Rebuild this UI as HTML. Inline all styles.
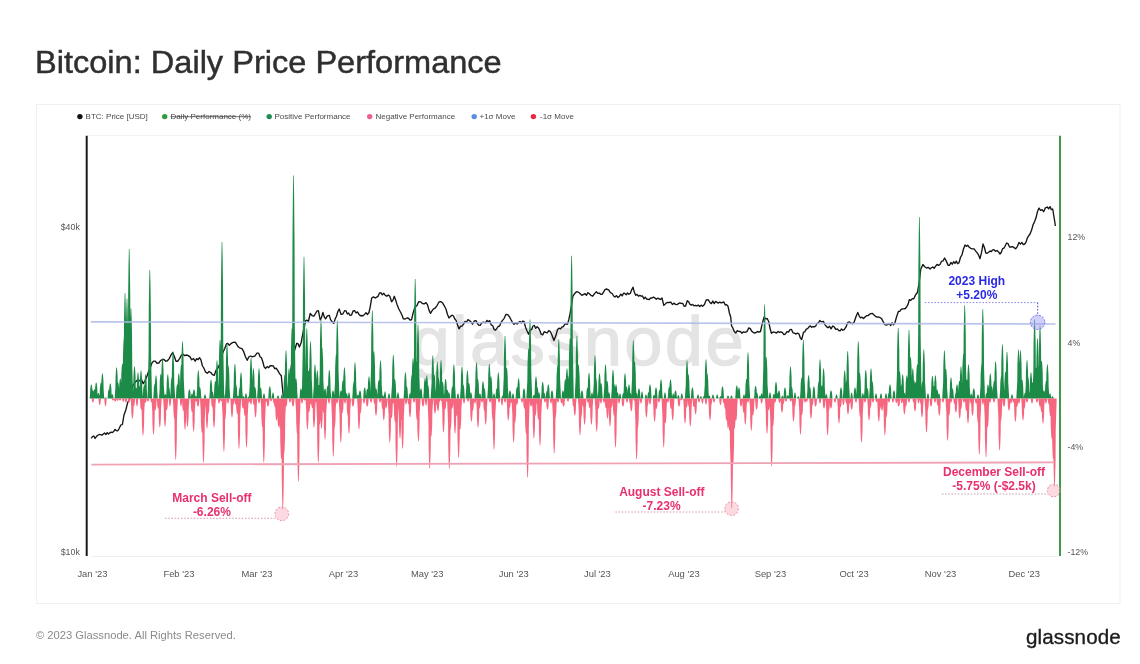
<!DOCTYPE html>
<html><head><meta charset="utf-8"><title>Bitcoin: Daily Price Performance</title>
<style>
html,body{margin:0;padding:0;background:#fff;}
body{width:1140px;height:664px;position:relative;overflow:hidden;font-family:"Liberation Sans",Arial,sans-serif;}
h1{position:absolute;left:35px;top:43.4px;margin:0;font-size:31px;font-weight:normal;color:#2f2f2f;white-space:nowrap;line-height:40px;transform:scaleX(1.05);transform-origin:0 0;-webkit-text-stroke:0.45px #2f2f2f;}
.foot{position:absolute;left:36px;top:627px;font-size:11.2px;color:#8a8a8a;white-space:nowrap;line-height:16px;}
.logo{position:absolute;left:1026px;top:624.6px;font-size:20.6px;color:#1c1c1c;white-space:nowrap;line-height:24px;letter-spacing:0.1px;-webkit-text-stroke:0.35px #1c1c1c;}
svg{position:absolute;left:0;top:0;}
</style></head>
<body>
<h1>Bitcoin: Daily Price Performance</h1>
<svg width="1140" height="664" viewBox="0 0 1140 664" font-family="Liberation Sans, Arial, sans-serif">
<rect x="36.5" y="104.5" width="1083.5" height="499" fill="#fff" stroke="#f0f0f0" stroke-width="1"/>
<g font-size="8" fill="#4a4a4a">
<circle cx="79.9" cy="116.6" r="2.7" fill="#111"/><text x="85.6" y="119.1">BTC: Price [USD]</text>
<circle cx="164.7" cy="116.6" r="2.7" fill="#2e9b3c"/><text x="170.5" y="119.1" text-decoration="line-through">Daily Performance (%)</text>
<circle cx="269.2" cy="116.6" r="2.7" fill="#1e8c55"/><text x="274.5" y="119.1">Positive Performance</text>
<circle cx="369.7" cy="116.6" r="2.7" fill="#f0608c"/><text x="375.5" y="119.1">Negative Performance</text>
<circle cx="474.2" cy="116.6" r="2.7" fill="#5b8ee0"/><text x="479.5" y="119.1">+1σ Move</text>
<circle cx="533.4" cy="116.6" r="2.7" fill="#e8283c"/><text x="540" y="119.1">-1σ Move</text>
</g>
<line x1="88" y1="135.5" x2="1059" y2="135.5" stroke="#f2f2f2" stroke-width="1"/>
<line x1="92" y1="556.5" x2="1059" y2="556.5" stroke="#efefef" stroke-width="1"/>
<text x="579" y="365" text-anchor="middle" font-size="68" fill="#e4e4e4" stroke="#e4e4e4" stroke-width="1.4" letter-spacing="2.7">glassnode</text>
<polyline points="91.20,438.30 92.50,436.68 93.80,436.02 95.10,438.43 96.40,436.60 97.78,435.22 99.16,434.48 100.54,434.60 101.92,435.12 103.30,434.00 104.60,433.01 105.90,434.56 107.20,432.60 108.50,434.00 109.80,432.86 111.10,432.23 112.40,432.50 113.70,431.40 115.03,429.40 116.35,430.66 117.67,430.80 119.00,428.80 120.70,425.20 122.40,424.50 124.00,415.00 125.80,410.01 127.60,402.80 130.20,397.60 131.50,390.12 132.80,385.50 135.40,382.00 138.00,379.40 139.75,380.86 141.50,379.40 143.20,383.70 145.10,380.51 147.00,376.00 148.63,371.17 150.27,367.71 151.90,363.00 153.60,361.08 155.30,361.20 157.05,363.21 158.80,363.00 160.55,360.58 162.30,359.50 164.00,359.47 165.70,361.20 167.45,360.78 169.20,358.60 170.95,355.18 172.70,352.50 174.35,356.52 176.00,361.20 177.80,361.21 179.60,358.60 181.30,355.20 183.00,354.30 184.75,355.64 186.50,355.00 188.25,355.59 190.00,356.90 191.73,359.78 193.47,358.56 195.20,361.20 196.63,358.60 198.07,359.59 199.50,357.70 200.93,359.90 202.37,365.76 203.80,368.00 205.55,371.98 207.30,373.30 209.05,371.47 210.80,372.50 212.50,374.66 214.20,375.40 216.10,370.30 218.00,368.00 219.63,364.24 221.27,356.99 222.90,352.50 224.65,348.71 226.40,343.90 227.83,343.42 229.27,345.40 230.70,343.90 232.45,342.64 234.20,342.10 235.50,342.46 236.80,344.70 238.50,347.03 240.20,348.20 241.95,348.66 243.70,351.70 245.45,356.81 247.20,360.30 248.90,356.75 250.60,356.00 252.07,356.89 253.53,356.46 255.00,356.00 256.85,353.16 258.70,353.20 260.05,356.75 261.40,357.80 262.75,361.48 264.10,366.80 265.63,368.41 267.17,366.56 268.70,367.70 270.20,365.78 271.70,365.66 273.20,365.90 274.70,368.58 276.20,368.25 277.70,370.40 279.50,373.58 281.30,375.80 283.10,394.80 285.00,397.50 287.50,392.00 290.00,377.00 292.50,357.00 294.70,350.00 296.70,343.30 298.05,343.66 299.40,347.00 301.20,342.40 303.50,330.00 305.70,320.70 307.05,320.10 308.40,321.60 310.20,313.50 312.05,315.56 313.90,316.20 315.40,313.74 316.90,311.19 318.40,310.70 320.20,319.80 321.55,317.39 322.90,312.50 324.25,316.83 325.60,318.90 327.40,315.89 329.20,315.30 330.60,319.60 332.00,321.60 333.80,323.40 335.15,318.92 336.50,316.20 337.85,311.47 339.20,309.00 341.00,314.40 342.80,313.98 344.60,310.70 345.95,310.85 347.30,313.96 348.65,313.04 350.00,315.30 351.53,315.05 353.07,310.98 354.60,310.70 356.07,313.01 357.53,311.87 359.00,314.40 360.38,315.71 361.75,315.53 363.12,315.85 364.50,314.40 366.00,312.83 367.50,314.44 369.00,312.50 370.35,306.12 371.70,298.00 373.50,296.84 375.30,298.00 376.68,297.18 378.05,296.35 379.43,293.22 380.80,292.70 382.30,294.83 383.80,293.34 385.30,295.40 386.80,296.19 388.30,294.92 389.80,296.30 391.60,301.70 392.95,300.12 394.30,296.30 395.65,300.00 397.00,304.40 398.85,309.02 400.70,312.50 402.05,315.24 403.40,318.90 405.20,318.97 407.00,318.00 408.50,318.26 410.00,319.96 411.50,319.80 413.25,312.39 415.00,307.00 416.85,305.73 418.70,301.70 420.55,301.81 422.40,303.50 424.20,303.84 426.00,302.60 427.50,304.90 429.00,310.14 430.50,313.40 432.05,310.74 433.60,308.90 435.40,307.81 437.20,305.30 439.00,302.00 440.80,301.60 442.65,303.10 444.50,306.20 446.00,309.06 447.50,314.54 449.00,318.00 450.50,316.36 452.00,315.21 453.50,316.00 454.85,319.02 456.20,320.60 457.60,325.00 459.00,328.80 460.50,326.29 462.00,326.20 463.50,324.20 465.00,321.33 466.50,322.02 468.00,319.70 469.50,320.55 471.00,321.94 472.50,324.20 474.25,321.00 476.00,320.60 477.40,323.51 478.80,325.20 480.15,325.40 481.50,323.12 482.85,322.21 484.20,322.40 485.57,322.82 486.95,320.45 488.32,321.70 489.70,320.60 491.20,324.93 492.70,325.73 494.20,329.70 495.55,330.20 496.90,328.44 498.25,326.44 499.60,326.00 500.95,322.65 502.30,320.60 504.15,318.32 506.00,314.30 507.80,314.63 509.60,317.00 511.07,319.84 512.53,322.46 514.00,324.20 515.53,322.90 517.07,323.94 518.60,322.40 519.95,321.44 521.30,322.96 522.65,321.12 524.00,321.50 525.53,327.13 527.07,330.92 528.60,334.20 530.07,330.23 531.53,329.72 533.00,326.00 534.38,325.42 535.75,328.34 537.12,326.65 538.50,327.90 539.85,330.51 541.20,334.20 542.70,334.90 544.20,331.70 545.70,332.40 547.23,332.92 548.77,330.56 550.30,331.50 552.10,335.53 553.90,340.50 555.70,336.06 557.50,329.70 559.00,328.10 560.50,328.90 562.00,327.00 563.35,326.68 564.70,324.32 566.05,323.80 567.40,324.20 568.75,319.97 570.10,313.40 571.50,305.25 572.90,296.20 574.70,293.59 576.50,291.70 578.25,292.04 580.00,293.50 581.85,295.39 583.70,294.40 585.05,293.71 586.40,295.35 587.75,292.69 589.10,293.50 590.90,295.34 592.70,296.20 594.55,293.60 596.40,291.70 597.90,293.36 599.40,293.13 600.90,294.40 602.25,294.24 603.60,292.16 604.95,289.67 606.30,289.00 608.60,289.90 610.40,292.59 612.20,293.50 613.60,296.00 615.00,297.00 616.50,295.60 618.00,297.52 619.50,296.20 620.85,294.13 622.20,295.90 623.55,293.21 624.90,293.50 626.25,294.70 627.60,293.04 628.95,294.25 630.30,293.50 631.65,289.83 633.00,287.20 634.35,292.34 635.70,295.30 637.08,294.42 638.45,296.20 639.83,295.39 641.20,296.20 642.55,296.02 643.90,298.86 645.25,297.13 646.60,299.00 647.95,299.23 649.30,299.62 650.65,297.81 652.00,298.00 653.44,297.10 654.88,297.93 656.32,299.33 657.76,298.10 659.20,299.00 660.60,299.22 662.00,298.00 663.80,305.30 665.15,304.14 666.50,302.82 667.85,302.38 669.20,302.50 670.78,302.05 672.35,304.44 673.92,303.15 675.50,304.40 676.96,304.56 678.42,303.69 679.88,302.98 681.34,303.38 682.80,303.50 684.15,306.22 685.50,306.20 687.30,300.70 688.65,301.74 690.00,304.40 691.35,305.04 692.70,304.36 694.05,305.84 695.40,305.30 696.84,305.96 698.28,305.03 699.72,306.48 701.16,305.14 702.60,306.20 704.45,304.41 706.30,299.80 708.10,299.72 709.90,302.50 711.34,303.61 712.78,301.07 714.22,303.60 715.66,301.39 717.10,302.50 718.45,303.00 719.80,302.17 721.15,302.89 722.50,302.50 723.88,301.96 725.25,305.02 726.62,304.64 728.00,306.20 729.35,312.76 730.70,317.00 731.60,326.00 732.95,328.16 734.30,331.50 735.80,332.93 737.30,330.68 738.80,331.50 740.35,331.42 741.90,333.19 743.45,331.82 745.00,332.40 746.90,331.64 748.80,327.90 750.30,328.68 751.80,331.29 753.30,332.40 754.74,333.11 756.18,332.40 757.62,331.50 759.06,332.05 760.50,331.50 762.30,323.46 764.10,317.00 765.63,318.86 767.17,318.53 768.70,321.50 770.05,328.31 771.40,333.30 773.20,331.91 775.00,332.40 776.50,333.08 778.00,331.45 779.50,332.40 780.98,331.78 782.45,332.64 783.92,334.55 785.40,334.00 786.93,331.55 788.47,332.12 790.00,329.60 791.50,329.40 793.00,332.84 794.50,333.20 796.00,334.04 797.50,333.06 799.00,334.00 800.35,337.98 801.70,339.50 803.50,332.30 804.88,331.63 806.25,329.20 807.62,328.65 809.00,326.90 810.35,325.91 811.70,327.27 813.05,326.54 814.40,326.90 815.75,325.94 817.10,323.28 818.45,322.78 819.80,320.50 821.60,321.92 823.40,321.40 824.93,324.62 826.47,326.66 828.00,327.80 829.55,326.29 831.10,328.80 832.65,325.98 834.20,326.90 835.73,329.37 837.27,328.84 838.80,330.50 840.15,330.78 841.50,328.94 842.85,330.20 844.20,329.60 846.00,326.92 847.80,322.30 849.38,321.94 850.95,323.03 852.52,323.74 854.10,322.30 855.95,316.77 857.80,312.40 859.15,315.83 860.50,317.80 862.00,317.22 863.50,318.56 865.00,317.00 866.50,315.65 868.00,315.64 869.50,314.20 871.00,313.63 872.50,313.48 874.00,315.00 875.53,316.35 877.07,317.19 878.60,317.00 880.07,317.64 881.53,318.51 883.00,321.40 884.85,324.66 886.70,325.00 888.05,324.28 889.40,323.60 890.75,325.57 892.10,322.81 893.45,324.86 894.80,323.20 896.60,316.79 898.40,311.50 899.77,311.37 901.15,309.42 902.52,308.89 903.90,308.80 905.25,308.50 906.60,307.00 907.95,304.66 909.30,299.70 910.80,300.44 912.30,298.63 913.80,298.80 915.60,294.76 917.40,292.50 919.20,282.50 920.70,269.60 922.90,264.50 924.70,266.75 926.50,268.00 928.25,267.34 930.00,269.00 931.38,267.79 932.75,266.96 934.12,268.31 935.50,266.30 937.00,264.44 938.50,265.41 940.00,264.50 941.53,261.33 943.07,260.93 944.60,258.00 946.40,261.37 948.20,265.40 949.55,265.26 950.90,262.46 952.25,264.18 953.60,261.80 954.95,263.43 956.30,261.15 957.65,263.73 959.00,262.70 960.50,257.26 962.00,254.78 963.50,249.03 965.00,245.00 966.33,246.39 967.67,245.12 969.00,247.00 970.67,248.27 972.33,248.83 974.00,248.80 975.50,250.89 977.00,252.65 978.50,254.85 980.00,258.70 981.50,252.66 983.00,244.00 984.40,247.47 985.80,253.00 987.20,253.25 988.60,252.25 990.00,251.00 991.33,251.52 992.67,249.83 994.00,249.70 995.50,251.29 997.00,250.47 998.50,251.89 1000.00,254.00 1001.32,252.23 1002.64,248.64 1003.96,248.15 1005.28,245.76 1006.60,243.00 1008.07,243.71 1009.53,247.04 1011.00,247.00 1012.53,246.54 1014.07,247.63 1015.60,248.80 1017.30,246.58 1019.00,242.40 1020.42,244.15 1021.85,242.40 1023.28,244.53 1024.70,244.00 1026.03,242.16 1027.35,237.97 1028.67,235.98 1030.00,234.00 1031.53,230.31 1033.07,224.71 1034.60,221.60 1036.07,217.60 1037.53,211.46 1039.00,208.00 1040.53,210.41 1042.07,209.59 1043.60,211.70 1045.45,207.90 1047.30,207.00 1048.65,208.82 1050.00,206.59 1051.35,209.64 1052.70,209.00 1054.50,220.00 1055.40,226.00" fill="none" stroke="#151515" stroke-width="1.35" stroke-linejoin="round"/>
<path d="M89.67,398.60 L90.05,393.70 L90.25,388.80 L90.65,386.00 L91.00,384.60 L91.60,384.60 L91.95,386.00 L92.35,388.80 L92.55,393.70 L92.93,398.60ZM94.53,398.60 L94.95,393.00 L95.15,387.40 L95.55,384.20 L95.90,382.60 L96.50,382.60 L96.85,384.20 L97.25,387.40 L97.45,393.00 L97.87,398.60ZM100.55,398.60 L101.15,389.85 L101.35,381.10 L101.75,376.10 L102.10,373.60 L102.70,373.60 L103.05,376.10 L103.45,381.10 L103.65,389.85 L104.25,398.60ZM104.20,398.60 L104.60,398.00 L105.15,397.60 L105.85,397.60 L106.40,398.00 L106.80,398.60ZM108.65,398.60 L109.05,393.35 L109.25,388.10 L109.65,385.10 L110.00,383.60 L110.60,383.60 L110.95,385.10 L111.35,388.10 L111.55,393.35 L111.95,398.60ZM114.63,398.60 L115.35,387.75 L115.55,376.90 L115.95,370.70 L116.30,367.60 L116.90,367.60 L117.25,370.70 L117.65,376.90 L117.85,387.75 L118.57,398.60ZM118.55,398.60 L119.05,391.60 L119.25,384.60 L119.65,380.60 L120.00,378.60 L120.60,378.60 L120.95,380.60 L121.35,384.60 L121.55,391.60 L122.05,398.60ZM121.80,398.60 L122.75,377.60 L122.95,356.60 L123.35,344.60 L123.70,338.60 L124.30,338.60 L124.65,344.60 L125.05,356.60 L125.25,377.60 L126.20,398.60ZM122.80,398.60 L123.75,361.64 L123.95,324.68 L124.35,303.56 L124.70,293.00 L125.30,293.00 L125.65,303.56 L126.05,324.68 L126.25,361.64 L127.20,398.60ZM124.80,398.60 L125.75,363.60 L125.95,328.60 L126.35,308.60 L126.70,298.60 L127.30,298.60 L127.65,308.60 L128.05,328.60 L128.25,363.60 L129.20,398.60ZM127.00,398.60 L127.95,346.24 L128.15,293.88 L128.55,263.96 L128.90,249.00 L129.50,249.00 L129.85,263.96 L130.25,293.88 L130.45,346.24 L131.40,398.60ZM128.80,398.60 L129.75,367.10 L129.95,335.60 L130.35,317.60 L130.70,308.60 L131.30,308.60 L131.65,317.60 L132.05,335.60 L132.25,367.10 L133.20,398.60ZM132.51,398.60 L133.25,387.40 L133.45,376.20 L133.85,369.80 L134.20,366.60 L134.80,366.60 L135.15,369.80 L135.55,376.20 L135.75,387.40 L136.49,398.60ZM136.13,398.60 L136.75,389.50 L136.95,380.40 L137.35,375.20 L137.70,372.60 L138.30,372.60 L138.65,375.20 L139.05,380.40 L139.25,389.50 L139.87,398.60ZM139.09,398.60 L139.75,388.80 L139.95,379.00 L140.35,373.40 L140.70,370.60 L141.30,370.60 L141.65,373.40 L142.05,379.00 L142.25,388.80 L142.91,398.60ZM143.77,398.60 L144.35,390.20 L144.55,381.80 L144.95,377.00 L145.30,374.60 L145.90,374.60 L146.25,377.00 L146.65,381.80 L146.85,390.20 L147.43,398.60ZM147.60,398.60 L148.55,353.59 L148.75,308.58 L149.15,282.86 L149.50,270.00 L150.10,270.00 L150.45,282.86 L150.85,308.58 L151.05,353.59 L152.00,398.60ZM154.19,398.60 L154.75,390.55 L154.95,382.50 L155.35,377.90 L155.70,375.60 L156.30,375.60 L156.65,377.90 L157.05,382.50 L157.25,390.55 L157.81,398.60ZM160.35,398.60 L161.25,384.60 L161.45,370.60 L161.85,362.60 L162.20,358.60 L162.80,358.60 L163.15,362.60 L163.55,370.60 L163.75,384.60 L164.65,398.60ZM165.97,398.60 L166.55,390.20 L166.75,381.80 L167.15,377.00 L167.50,374.60 L168.10,374.60 L168.45,377.00 L168.85,381.80 L169.05,390.20 L169.63,398.60ZM170.80,398.60 L171.75,382.15 L171.95,365.70 L172.35,356.30 L172.70,351.60 L173.30,351.60 L173.65,356.30 L174.05,365.70 L174.25,382.15 L175.20,398.60ZM176.95,398.60 L177.55,389.85 L177.75,381.10 L178.15,376.10 L178.50,373.60 L179.10,373.60 L179.45,376.10 L179.85,381.10 L180.05,389.85 L180.65,398.60ZM180.30,398.60 L181.25,378.65 L181.45,358.70 L181.85,347.30 L182.20,341.60 L182.80,341.60 L183.15,347.30 L183.55,358.70 L183.75,378.65 L184.70,398.60ZM187.87,398.60 L188.15,395.45 L188.35,392.30 L188.75,390.50 L189.10,389.60 L189.70,389.60 L190.05,390.50 L190.45,392.30 L190.65,395.45 L190.93,398.60ZM190.70,398.60 L191.10,395.60 L191.65,393.60 L192.35,393.60 L192.90,395.60 L193.30,398.60ZM192.47,398.60 L192.75,395.45 L192.95,392.30 L193.35,390.50 L193.70,389.60 L194.30,389.60 L194.65,390.50 L195.05,392.30 L195.25,395.45 L195.53,398.60ZM196.39,398.60 L197.05,388.80 L197.25,379.00 L197.65,373.40 L198.00,370.60 L198.60,370.60 L198.95,373.40 L199.35,379.00 L199.55,388.80 L200.21,398.60ZM203.70,398.60 L204.10,396.20 L204.65,394.60 L205.35,394.60 L205.90,396.20 L206.30,398.60ZM209.27,398.60 L209.75,392.02 L209.95,385.44 L210.35,381.68 L210.70,379.80 L211.30,379.80 L211.65,381.68 L212.05,385.44 L212.25,392.02 L212.73,398.60ZM214.89,398.60 L215.75,385.30 L215.95,372.00 L216.35,364.40 L216.70,360.60 L217.30,360.60 L217.65,364.40 L218.05,372.00 L218.25,385.30 L219.11,398.60ZM217.80,398.60 L218.75,378.06 L218.95,357.51 L219.35,345.77 L219.70,339.90 L220.30,339.90 L220.65,345.77 L221.05,357.51 L221.25,378.06 L222.20,398.60ZM219.80,398.60 L220.75,343.79 L220.95,288.98 L221.35,257.66 L221.70,242.00 L222.30,242.00 L222.65,257.66 L223.05,288.98 L223.25,343.79 L224.20,398.60ZM224.80,398.60 L225.75,379.35 L225.95,360.10 L226.35,349.10 L226.70,343.60 L227.30,343.60 L227.65,349.10 L228.05,360.10 L228.25,379.35 L229.20,398.60ZM232.86,398.60 L233.65,386.49 L233.85,374.38 L234.25,367.46 L234.60,364.00 L235.20,364.00 L235.55,367.46 L235.95,374.38 L236.15,386.49 L236.94,398.60ZM239.13,398.60 L239.75,389.50 L239.95,380.40 L240.35,375.20 L240.70,372.60 L241.30,372.60 L241.65,375.20 L242.05,380.40 L242.25,389.50 L242.87,398.60ZM244.70,398.60 L245.10,395.60 L245.65,393.60 L246.35,393.60 L246.90,395.60 L247.30,398.60ZM248.84,398.60 L249.75,384.39 L249.95,370.18 L250.35,362.06 L250.70,358.00 L251.30,358.00 L251.65,362.06 L252.05,370.18 L252.25,384.39 L253.16,398.60ZM251.45,398.60 L252.15,388.10 L252.35,377.60 L252.75,371.60 L253.10,368.60 L253.70,368.60 L254.05,371.60 L254.45,377.60 L254.65,388.10 L255.35,398.60ZM257.05,398.60 L257.75,388.10 L257.95,377.60 L258.35,371.60 L258.70,368.60 L259.30,368.60 L259.65,371.60 L260.05,377.60 L260.25,388.10 L260.95,398.60ZM262.70,398.60 L263.10,395.60 L263.65,393.60 L264.35,393.60 L264.90,395.60 L265.30,398.60ZM268.21,398.60 L268.55,394.40 L268.75,390.20 L269.15,387.80 L269.50,386.60 L270.10,386.60 L270.45,387.80 L270.85,390.20 L271.05,394.40 L271.39,398.60ZM271.70,398.60 L272.10,395.00 L272.65,392.60 L273.35,392.60 L273.90,395.00 L274.30,398.60ZM276.70,398.60 L277.10,396.80 L277.65,395.60 L278.35,395.60 L278.90,396.80 L279.30,398.60ZM280.70,398.60 L281.10,396.20 L281.65,394.60 L282.35,394.60 L282.90,396.20 L283.30,398.60ZM283.80,398.60 L284.75,381.80 L284.95,365.00 L285.35,355.40 L285.70,350.60 L286.30,350.60 L286.65,355.40 L287.05,365.00 L287.25,381.80 L288.20,398.60ZM287.05,398.60 L287.75,388.10 L287.95,377.60 L288.35,371.60 L288.70,368.60 L289.30,368.60 L289.65,371.60 L290.05,377.60 L290.25,388.10 L290.95,398.60ZM289.80,398.60 L290.75,374.10 L290.95,349.60 L291.35,335.60 L291.70,328.60 L292.30,328.60 L292.65,335.60 L293.05,349.60 L293.25,374.10 L294.20,398.60ZM291.30,398.60 L292.25,320.55 L292.45,242.50 L292.85,197.90 L293.20,175.60 L293.80,175.60 L294.15,197.90 L294.55,242.50 L294.75,320.55 L295.70,398.60ZM294.25,398.60 L294.75,391.60 L294.95,384.60 L295.35,380.60 L295.70,378.60 L296.30,378.60 L296.65,380.60 L297.05,384.60 L297.25,391.60 L297.75,398.60ZM299.45,398.60 L299.75,395.10 L299.95,391.60 L300.35,389.60 L300.70,388.60 L301.30,388.60 L301.65,389.60 L302.05,391.60 L302.25,395.10 L302.55,398.60ZM301.80,398.60 L302.75,348.97 L302.95,299.34 L303.35,270.98 L303.70,256.80 L304.30,256.80 L304.65,270.98 L305.05,299.34 L305.25,348.97 L306.20,398.60ZM304.60,398.60 L305.55,374.10 L305.75,349.60 L306.15,335.60 L306.50,328.60 L307.10,328.60 L307.45,335.60 L307.85,349.60 L308.05,374.10 L309.00,398.60ZM308.30,398.60 L309.25,378.65 L309.45,358.70 L309.85,347.30 L310.20,341.60 L310.80,341.60 L311.15,347.30 L311.55,358.70 L311.75,378.65 L312.70,398.60ZM312.97,398.60 L313.75,386.70 L313.95,374.80 L314.35,368.00 L314.70,364.60 L315.30,364.60 L315.65,368.00 L316.05,374.80 L316.25,386.70 L317.03,398.60ZM315.39,398.60 L316.05,388.80 L316.25,379.00 L316.65,373.40 L317.00,370.60 L317.60,370.60 L317.95,373.40 L318.35,379.00 L318.55,388.80 L319.21,398.60ZM318.80,398.60 L319.75,370.95 L319.95,343.30 L320.35,327.50 L320.70,319.60 L321.30,319.60 L321.65,327.50 L322.05,343.30 L322.25,370.95 L323.20,398.60ZM323.45,398.60 L323.75,395.10 L323.95,391.60 L324.35,389.60 L324.70,388.60 L325.30,388.60 L325.65,389.60 L326.05,391.60 L326.25,395.10 L326.55,398.60ZM327.38,398.60 L328.05,388.59 L328.25,378.58 L328.65,372.86 L329.00,370.00 L329.60,370.00 L329.95,372.86 L330.35,378.58 L330.55,388.59 L331.22,398.60ZM331.49,398.60 L331.75,395.80 L331.95,393.00 L332.35,391.40 L332.70,390.60 L333.30,390.60 L333.65,391.40 L334.05,393.00 L334.25,395.80 L334.51,398.60ZM335.10,398.60 L336.05,371.30 L336.25,344.00 L336.65,328.40 L337.00,320.60 L337.60,320.60 L337.95,328.40 L338.35,344.00 L338.55,371.30 L339.50,398.60ZM339.49,398.60 L339.75,395.80 L339.95,393.00 L340.35,391.40 L340.70,390.60 L341.30,390.60 L341.65,391.40 L342.05,393.00 L342.25,395.80 L342.51,398.60ZM342.43,398.60 L343.15,387.75 L343.35,376.90 L343.75,370.70 L344.10,367.60 L344.70,367.60 L345.05,370.70 L345.45,376.90 L345.65,387.75 L346.37,398.60ZM347.70,398.60 L348.10,395.00 L348.65,392.60 L349.35,392.60 L349.90,395.00 L350.30,398.60ZM352.93,398.60 L353.75,386.00 L353.95,373.40 L354.35,366.20 L354.70,362.60 L355.30,362.60 L355.65,366.20 L356.05,373.40 L356.25,386.00 L357.07,398.60ZM358.49,398.60 L358.75,395.80 L358.95,393.00 L359.35,391.40 L359.70,390.60 L360.30,390.60 L360.65,391.40 L361.05,393.00 L361.25,395.80 L361.51,398.60ZM363.13,398.60 L363.45,394.75 L363.65,390.90 L364.05,388.70 L364.40,387.60 L365.00,387.60 L365.35,388.70 L365.75,390.90 L365.95,394.75 L366.27,398.60ZM367.21,398.60 L367.75,390.90 L367.95,383.20 L368.35,378.80 L368.70,376.60 L369.30,376.60 L369.65,378.80 L370.05,383.20 L370.25,390.90 L370.79,398.60ZM370.10,398.60 L371.05,367.80 L371.25,337.00 L371.65,319.40 L372.00,310.60 L372.60,310.60 L372.95,319.40 L373.35,337.00 L373.55,367.80 L374.50,398.60ZM374.45,398.60 L374.75,395.10 L374.95,391.60 L375.35,389.60 L375.70,388.60 L376.30,388.60 L376.65,389.60 L377.05,391.60 L377.25,395.10 L377.55,398.60ZM378.39,398.60 L379.25,385.30 L379.45,372.00 L379.85,364.40 L380.20,360.60 L380.80,360.60 L381.15,364.40 L381.55,372.00 L381.75,385.30 L382.61,398.60ZM383.70,398.60 L384.10,394.40 L384.65,391.60 L385.35,391.60 L385.90,394.40 L386.30,398.60ZM387.70,398.60 L388.10,395.60 L388.65,393.60 L389.35,393.60 L389.90,395.60 L390.30,398.60ZM391.10,398.60 L392.05,383.34 L392.25,368.08 L392.65,359.36 L393.00,355.00 L393.60,355.00 L393.95,359.36 L394.35,368.08 L394.55,383.34 L395.50,398.60ZM396.70,398.60 L397.10,395.00 L397.65,392.60 L398.35,392.60 L398.90,395.00 L399.30,398.60ZM403.53,398.60 L404.15,389.50 L404.35,380.40 L404.75,375.20 L405.10,372.60 L405.70,372.60 L406.05,375.20 L406.45,380.40 L406.65,389.50 L407.27,398.60ZM408.70,398.60 L409.10,395.60 L409.65,393.60 L410.35,393.60 L410.90,395.60 L411.30,398.60ZM410.85,398.60 L411.75,384.60 L411.95,370.60 L412.35,362.60 L412.70,358.60 L413.30,358.60 L413.65,362.60 L414.05,370.60 L414.25,384.60 L415.15,398.60ZM413.00,398.60 L413.95,356.74 L414.15,314.88 L414.55,290.96 L414.90,279.00 L415.50,279.00 L415.85,290.96 L416.25,314.88 L416.45,356.74 L417.40,398.60ZM415.80,398.60 L416.75,372.70 L416.95,346.80 L417.35,332.00 L417.70,324.60 L418.30,324.60 L418.65,332.00 L419.05,346.80 L419.25,372.70 L420.20,398.60ZM419.45,398.60 L419.75,395.10 L419.95,391.60 L420.35,389.60 L420.70,388.60 L421.30,388.60 L421.65,389.60 L422.05,391.60 L422.25,395.10 L422.55,398.60ZM423.25,398.60 L423.75,391.60 L423.95,384.60 L424.35,380.60 L424.70,378.60 L425.30,378.60 L425.65,380.60 L426.05,384.60 L426.25,391.60 L426.75,398.60ZM424.99,398.60 L425.55,390.55 L425.75,382.50 L426.15,377.90 L426.50,375.60 L427.10,375.60 L427.45,377.90 L427.85,382.50 L428.05,390.55 L428.61,398.60ZM430.60,398.60 L431.55,383.55 L431.75,368.50 L432.15,359.90 L432.50,355.60 L433.10,355.60 L433.45,359.90 L433.85,368.50 L434.05,383.55 L435.00,398.60ZM435.21,398.60 L436.05,385.65 L436.25,372.70 L436.65,365.30 L437.00,361.60 L437.60,361.60 L437.95,365.30 L438.35,372.70 L438.55,385.65 L439.39,398.60ZM438.88,398.60 L439.75,385.16 L439.95,371.72 L440.35,364.04 L440.70,360.20 L441.30,360.20 L441.65,364.04 L442.05,371.72 L442.25,385.16 L443.12,398.60ZM443.86,398.60 L444.35,391.78 L444.55,384.95 L444.95,381.05 L445.30,379.10 L445.90,379.10 L446.25,381.05 L446.65,384.95 L446.85,391.78 L447.34,398.60ZM447.70,398.60 L448.10,395.00 L448.65,392.60 L449.35,392.60 L449.90,395.00 L450.30,398.60ZM451.87,398.60 L452.65,386.70 L452.85,374.80 L453.25,368.00 L453.60,364.60 L454.20,364.60 L454.55,368.00 L454.95,374.80 L455.15,386.70 L455.93,398.60ZM456.70,398.60 L457.10,395.60 L457.65,393.60 L458.35,393.60 L458.90,395.60 L459.30,398.60ZM460.01,398.60 L460.75,387.40 L460.95,376.20 L461.35,369.80 L461.70,366.60 L462.30,366.60 L462.65,369.80 L463.05,376.20 L463.25,387.40 L463.99,398.60ZM465.49,398.60 L466.15,388.80 L466.35,379.00 L466.75,373.40 L467.10,370.60 L467.70,370.60 L468.05,373.40 L468.45,379.00 L468.65,388.80 L469.31,398.60ZM469.70,398.60 L470.10,395.00 L470.65,392.60 L471.35,392.60 L471.90,395.00 L472.30,398.60ZM474.43,398.60 L475.25,386.00 L475.45,373.40 L475.85,366.20 L476.20,362.60 L476.80,362.60 L477.15,366.20 L477.55,373.40 L477.75,386.00 L478.57,398.60ZM478.70,398.60 L479.10,395.60 L479.65,393.60 L480.35,393.60 L480.90,395.60 L481.30,398.60ZM481.31,398.60 L481.75,392.65 L481.95,386.70 L482.35,383.30 L482.70,381.60 L483.30,381.60 L483.65,383.30 L484.05,386.70 L484.25,392.65 L484.69,398.60ZM487.26,398.60 L488.05,386.49 L488.25,374.38 L488.65,367.46 L489.00,364.00 L489.60,364.00 L489.95,367.46 L490.35,374.38 L490.55,386.49 L491.34,398.60ZM492.70,398.60 L493.10,395.60 L493.65,393.60 L494.35,393.60 L494.90,395.60 L495.30,398.60ZM496.43,398.60 L497.05,389.50 L497.25,380.40 L497.65,375.20 L498.00,372.60 L498.60,372.60 L498.95,375.20 L499.35,380.40 L499.55,389.50 L500.17,398.60ZM502.80,398.60 L503.75,376.73 L503.95,354.85 L504.35,342.35 L504.70,336.10 L505.30,336.10 L505.65,342.35 L506.05,354.85 L506.25,376.73 L507.20,398.60ZM508.49,398.60 L508.75,395.80 L508.95,393.00 L509.35,391.40 L509.70,390.60 L510.30,390.60 L510.65,391.40 L511.05,393.00 L511.25,395.80 L511.51,398.60ZM511.70,398.60 L512.10,395.60 L512.65,393.60 L513.35,393.60 L513.90,395.60 L514.30,398.60ZM516.85,398.60 L517.35,391.60 L517.55,384.60 L517.95,380.60 L518.30,378.60 L518.90,378.60 L519.25,380.60 L519.65,384.60 L519.85,391.60 L520.35,398.60ZM522.45,398.60 L522.75,395.10 L522.95,391.60 L523.35,389.60 L523.70,388.60 L524.30,388.60 L524.65,389.60 L525.05,391.60 L525.25,395.10 L525.55,398.60ZM527.80,398.60 L528.75,370.95 L528.95,343.30 L529.35,327.50 L529.70,319.60 L530.30,319.60 L530.65,327.50 L531.05,343.30 L531.25,370.95 L532.20,398.60ZM534.21,398.60 L534.75,390.90 L534.95,383.20 L535.35,378.80 L535.70,376.60 L536.30,376.60 L536.65,378.80 L537.05,383.20 L537.25,390.90 L537.79,398.60ZM537.70,398.60 L538.10,395.00 L538.65,392.60 L539.35,392.60 L539.90,395.00 L540.30,398.60ZM541.02,398.60 L541.45,392.83 L541.65,387.05 L542.05,383.75 L542.40,382.10 L543.00,382.10 L543.35,383.75 L543.75,387.05 L543.95,392.83 L544.38,398.60ZM546.67,398.60 L547.05,393.70 L547.25,388.80 L547.65,386.00 L548.00,384.60 L548.60,384.60 L548.95,386.00 L549.35,388.80 L549.55,393.70 L549.93,398.60ZM550.49,398.60 L550.75,395.80 L550.95,393.00 L551.35,391.40 L551.70,390.60 L552.30,390.60 L552.65,391.40 L553.05,393.00 L553.25,395.80 L553.51,398.60ZM556.60,398.60 L557.55,377.81 L557.75,357.02 L558.15,345.14 L558.50,339.20 L559.10,339.20 L559.45,345.14 L559.85,357.02 L560.05,377.81 L561.00,398.60ZM561.49,398.60 L561.75,395.80 L561.95,393.00 L562.35,391.40 L562.70,390.60 L563.30,390.60 L563.65,391.40 L564.05,393.00 L564.25,395.80 L564.51,398.60ZM565.05,398.60 L565.75,388.10 L565.95,377.60 L566.35,371.60 L566.70,368.60 L567.30,368.60 L567.65,371.60 L568.05,377.60 L568.25,388.10 L568.95,398.60ZM567.80,398.60 L568.75,377.60 L568.95,356.60 L569.35,344.60 L569.70,338.60 L570.30,338.60 L570.65,344.60 L571.05,356.60 L571.25,377.60 L572.20,398.60ZM569.40,398.60 L570.35,348.62 L570.55,298.64 L570.95,270.08 L571.30,255.80 L571.90,255.80 L572.25,270.08 L572.65,298.64 L572.85,348.62 L573.80,398.60ZM574.70,398.60 L575.65,376.73 L575.85,354.85 L576.25,342.35 L576.60,336.10 L577.20,336.10 L577.55,342.35 L577.95,354.85 L578.15,376.73 L579.10,398.60ZM576.37,398.60 L577.15,386.70 L577.35,374.80 L577.75,368.00 L578.10,364.60 L578.70,364.60 L579.05,368.00 L579.45,374.80 L579.65,386.70 L580.43,398.60ZM580.49,398.60 L580.75,395.80 L580.95,393.00 L581.35,391.40 L581.70,390.60 L582.30,390.60 L582.65,391.40 L583.05,393.00 L583.25,395.80 L583.51,398.60ZM587.14,398.60 L587.75,389.64 L587.95,380.68 L588.35,375.56 L588.70,373.00 L589.30,373.00 L589.65,375.56 L590.05,380.68 L590.25,389.64 L590.86,398.60ZM590.70,398.60 L591.10,395.00 L591.65,392.60 L592.35,392.60 L592.90,395.00 L593.30,398.60ZM592.80,398.60 L593.75,383.55 L593.95,368.50 L594.35,359.90 L594.70,355.60 L595.30,355.60 L595.65,359.90 L596.05,368.50 L596.25,383.55 L597.20,398.60ZM597.65,398.60 L598.25,389.85 L598.45,381.10 L598.85,376.10 L599.20,373.60 L599.80,373.60 L600.15,376.10 L600.55,381.10 L600.75,389.85 L601.35,398.60ZM603.47,398.60 L604.25,386.70 L604.45,374.80 L604.85,368.00 L605.20,364.60 L605.80,364.60 L606.15,368.00 L606.55,374.80 L606.75,386.70 L607.53,398.60ZM607.70,398.60 L608.10,395.00 L608.65,392.60 L609.35,392.60 L609.90,395.00 L610.30,398.60ZM611.08,398.60 L611.75,388.59 L611.95,378.58 L612.35,372.86 L612.70,370.00 L613.30,370.00 L613.65,372.86 L614.05,378.58 L614.25,388.59 L614.92,398.60ZM614.37,398.60 L614.75,393.70 L614.95,388.80 L615.35,386.00 L615.70,384.60 L616.30,384.60 L616.65,386.00 L617.05,388.80 L617.25,393.70 L617.63,398.60ZM618.70,398.60 L619.10,395.60 L619.65,393.60 L620.35,393.60 L620.90,395.60 L621.30,398.60ZM623.15,398.60 L623.75,389.85 L623.95,381.10 L624.35,376.10 L624.70,373.60 L625.30,373.60 L625.65,376.10 L626.05,381.10 L626.25,389.85 L626.85,398.60ZM627.37,398.60 L627.75,393.70 L627.95,388.80 L628.35,386.00 L628.70,384.60 L629.30,384.60 L629.65,386.00 L630.05,388.80 L630.25,393.70 L630.63,398.60ZM631.10,398.60 L632.05,378.30 L632.25,358.00 L632.65,346.40 L633.00,340.60 L633.60,340.60 L633.95,346.40 L634.35,358.00 L634.55,378.30 L635.50,398.60ZM637.45,398.60 L637.75,395.10 L637.95,391.60 L638.35,389.60 L638.70,388.60 L639.30,388.60 L639.65,389.60 L640.05,391.60 L640.25,395.10 L640.55,398.60ZM640.70,398.60 L641.10,394.40 L641.65,391.60 L642.35,391.60 L642.90,394.40 L643.30,398.60ZM644.70,398.60 L645.10,396.20 L645.65,394.60 L646.35,394.60 L646.90,396.20 L647.30,398.60ZM648.37,398.60 L648.75,393.70 L648.95,388.80 L649.35,386.00 L649.70,384.60 L650.30,384.60 L650.65,386.00 L651.05,388.80 L651.25,393.70 L651.63,398.60ZM654.43,398.60 L654.75,394.75 L654.95,390.90 L655.35,388.70 L655.70,387.60 L656.30,387.60 L656.65,388.70 L657.05,390.90 L657.25,394.75 L657.57,398.60ZM659.27,398.60 L659.75,391.95 L659.95,385.30 L660.35,381.50 L660.70,379.60 L661.30,379.60 L661.65,381.50 L662.05,385.30 L662.25,391.95 L662.73,398.60ZM663.70,398.60 L664.10,395.00 L664.65,392.60 L665.35,392.60 L665.90,395.00 L666.30,398.60ZM668.77,398.60 L669.25,391.95 L669.45,385.30 L669.85,381.50 L670.20,379.60 L670.80,379.60 L671.15,381.50 L671.55,385.30 L671.75,391.95 L672.23,398.60ZM673.99,398.60 L674.25,395.80 L674.45,393.00 L674.85,391.40 L675.20,390.60 L675.80,390.60 L676.15,391.40 L676.55,393.00 L676.75,395.80 L677.01,398.60ZM680.50,398.60 L680.90,395.60 L681.45,393.60 L682.15,393.60 L682.70,395.60 L683.10,398.60ZM684.89,398.60 L685.75,385.30 L685.95,372.00 L686.35,364.40 L686.70,360.60 L687.30,360.60 L687.65,364.40 L688.05,372.00 L688.25,385.30 L689.11,398.60ZM690.83,398.60 L691.15,394.75 L691.35,390.90 L691.75,388.70 L692.10,387.60 L692.70,387.60 L693.05,388.70 L693.45,390.90 L693.65,394.75 L693.97,398.60ZM696.70,398.60 L697.10,396.20 L697.65,394.60 L698.35,394.60 L698.90,396.20 L699.30,398.60ZM703.87,398.60 L704.75,384.95 L704.95,371.30 L705.35,363.50 L705.70,359.60 L706.30,359.60 L706.65,363.50 L707.05,371.30 L707.25,384.95 L708.13,398.60ZM711.70,398.60 L712.10,396.20 L712.65,394.60 L713.35,394.60 L713.90,396.20 L714.30,398.60ZM715.90,398.60 L716.30,396.20 L716.85,394.60 L717.55,394.60 L718.10,396.20 L718.50,398.60ZM720.91,398.60 L721.25,394.40 L721.45,390.20 L721.85,387.80 L722.20,386.60 L722.80,386.60 L723.15,387.80 L723.55,390.20 L723.75,394.40 L724.09,398.60ZM726.70,398.60 L727.10,396.80 L727.65,395.60 L728.35,395.60 L728.90,396.80 L729.30,398.60ZM735.19,398.60 L735.55,394.05 L735.75,389.50 L736.15,386.90 L736.50,385.60 L737.10,385.60 L737.45,386.90 L737.85,389.50 L738.05,394.05 L738.41,398.60ZM737.43,398.60 L737.75,394.75 L737.95,390.90 L738.35,388.70 L738.70,387.60 L739.30,387.60 L739.65,388.70 L740.05,390.90 L740.25,394.75 L740.57,398.60ZM742.70,398.60 L743.10,396.20 L743.65,394.60 L744.35,394.60 L744.90,396.20 L745.30,398.60ZM745.80,398.60 L746.75,382.50 L746.95,366.40 L747.35,357.20 L747.70,352.60 L748.30,352.60 L748.65,357.20 L749.05,366.40 L749.25,382.50 L750.20,398.60ZM754.00,398.60 L754.35,394.23 L754.55,389.85 L754.95,387.35 L755.30,386.10 L755.90,386.10 L756.25,387.35 L756.65,389.85 L756.85,394.23 L757.20,398.60ZM760.30,398.60 L760.70,395.60 L761.25,393.60 L761.95,393.60 L762.50,395.60 L762.90,398.60ZM762.40,398.60 L763.35,365.70 L763.55,332.80 L763.95,314.00 L764.30,304.60 L764.90,304.60 L765.25,314.00 L765.65,332.80 L765.85,365.70 L766.80,398.60ZM768.70,398.60 L769.10,395.00 L769.65,392.60 L770.35,392.60 L770.90,395.00 L771.30,398.60ZM774.32,398.60 L774.75,392.83 L774.95,387.05 L775.35,383.75 L775.70,382.10 L776.30,382.10 L776.65,383.75 L777.05,387.05 L777.25,392.83 L777.68,398.60ZM777.49,398.60 L777.75,395.80 L777.95,393.00 L778.35,391.40 L778.70,390.60 L779.30,390.60 L779.65,391.40 L780.05,393.00 L780.25,395.80 L780.51,398.60ZM783.43,398.60 L783.75,394.75 L783.95,390.90 L784.35,388.70 L784.70,387.60 L785.30,387.60 L785.65,388.70 L786.05,390.90 L786.25,394.75 L786.57,398.60ZM788.51,398.60 L789.25,387.40 L789.45,376.20 L789.85,369.80 L790.20,366.60 L790.80,366.60 L791.15,369.80 L791.55,376.20 L791.75,387.40 L792.49,398.60ZM793.70,398.60 L794.10,395.00 L794.65,392.60 L795.35,392.60 L795.90,395.00 L796.30,398.60ZM801.10,398.60 L802.05,378.06 L802.25,357.51 L802.65,345.77 L803.00,339.90 L803.60,339.90 L803.95,345.77 L804.35,357.51 L804.55,378.06 L805.50,398.60ZM806.78,398.60 L807.35,390.45 L807.55,382.29 L807.95,377.63 L808.30,375.30 L808.90,375.30 L809.25,377.63 L809.65,382.29 L809.85,390.45 L810.42,398.60ZM812.31,398.60 L812.65,394.40 L812.85,390.20 L813.25,387.80 L813.60,386.60 L814.20,386.60 L814.55,387.80 L814.95,390.20 L815.15,394.40 L815.49,398.60ZM817.87,398.60 L818.75,384.95 L818.95,371.30 L819.35,363.50 L819.70,359.60 L820.30,359.60 L820.65,363.50 L821.05,371.30 L821.25,384.95 L822.13,398.60ZM821.65,398.60 L822.35,388.10 L822.55,377.60 L822.95,371.60 L823.30,368.60 L823.90,368.60 L824.25,371.60 L824.65,377.60 L824.85,388.10 L825.55,398.60ZM829.49,398.60 L829.75,395.80 L829.95,393.00 L830.35,391.40 L830.70,390.60 L831.30,390.60 L831.65,391.40 L832.05,393.00 L832.25,395.80 L832.51,398.60ZM835.20,398.60 L835.60,396.20 L836.15,394.60 L836.85,394.60 L837.40,396.20 L837.80,398.60ZM839.43,398.60 L839.75,394.75 L839.95,390.90 L840.35,388.70 L840.70,387.60 L841.30,387.60 L841.65,388.70 L842.05,390.90 L842.25,394.75 L842.57,398.60ZM842.79,398.60 L843.45,388.80 L843.65,379.00 L844.05,373.40 L844.40,370.60 L845.00,370.60 L845.35,373.40 L845.75,379.00 L845.95,388.80 L846.61,398.60ZM845.50,398.60 L846.45,382.01 L846.65,365.42 L847.05,355.94 L847.40,351.20 L848.00,351.20 L848.35,355.94 L848.75,365.42 L848.95,382.01 L849.90,398.60ZM853.43,398.60 L853.75,394.75 L853.95,390.90 L854.35,388.70 L854.70,387.60 L855.30,387.60 L855.65,388.70 L856.05,390.90 L856.25,394.75 L856.57,398.60ZM856.10,398.60 L857.05,378.65 L857.25,358.70 L857.65,347.30 L858.00,341.60 L858.60,341.60 L858.95,347.30 L859.35,358.70 L859.55,378.65 L860.50,398.60ZM863.88,398.60 L864.55,388.59 L864.75,378.58 L865.15,372.86 L865.50,370.00 L866.10,370.00 L866.45,372.86 L866.85,378.58 L867.05,388.59 L867.72,398.60ZM869.05,398.60 L869.75,388.10 L869.95,377.60 L870.35,371.60 L870.70,368.60 L871.30,368.60 L871.65,371.60 L872.05,377.60 L872.25,388.10 L872.95,398.60ZM874.70,398.60 L875.10,395.60 L875.65,393.60 L876.35,393.60 L876.90,395.60 L877.30,398.60ZM879.70,398.60 L880.10,395.60 L880.65,393.60 L881.35,393.60 L881.90,395.60 L882.30,398.60ZM884.70,398.60 L885.10,395.60 L885.65,393.60 L886.35,393.60 L886.90,395.60 L887.30,398.60ZM888.37,398.60 L888.75,393.70 L888.95,388.80 L889.35,386.00 L889.70,384.60 L890.30,384.60 L890.65,386.00 L891.05,388.80 L891.25,393.70 L891.63,398.60ZM892.49,398.60 L892.75,395.80 L892.95,393.00 L893.35,391.40 L893.70,390.60 L894.30,390.60 L894.65,391.40 L895.05,393.00 L895.25,395.80 L895.51,398.60ZM896.00,398.60 L896.95,373.86 L897.15,349.11 L897.55,334.97 L897.90,327.90 L898.50,327.90 L898.85,334.97 L899.25,349.11 L899.45,373.86 L900.40,398.60ZM900.87,398.60 L901.45,390.20 L901.65,381.80 L902.05,377.00 L902.40,374.60 L903.00,374.60 L903.35,377.00 L903.75,381.80 L903.95,390.20 L904.53,398.60ZM904.99,398.60 L905.55,390.55 L905.75,382.50 L906.15,377.90 L906.50,375.60 L907.10,375.60 L907.45,377.90 L907.85,382.50 L908.05,390.55 L908.61,398.60ZM906.80,398.60 L907.75,374.62 L907.95,350.65 L908.35,336.95 L908.70,330.10 L909.30,330.10 L909.65,336.95 L910.05,350.65 L910.25,374.62 L911.20,398.60ZM910.85,398.60 L911.55,388.10 L911.75,377.60 L912.15,371.60 L912.50,368.60 L913.10,368.60 L913.45,371.60 L913.85,377.60 L914.05,388.10 L914.75,398.60ZM915.27,398.60 L916.05,386.70 L916.25,374.80 L916.65,368.00 L917.00,364.60 L917.60,364.60 L917.95,368.00 L918.35,374.80 L918.55,386.70 L919.33,398.60ZM917.20,398.60 L918.15,335.04 L918.35,271.48 L918.75,235.16 L919.10,217.00 L919.70,217.00 L920.05,235.16 L920.45,271.48 L920.65,335.04 L921.60,398.60ZM921.60,398.60 L922.55,381.45 L922.75,364.30 L923.15,354.50 L923.50,349.60 L924.10,349.60 L924.45,354.50 L924.85,364.30 L925.05,381.45 L926.00,398.60ZM926.70,398.60 L927.10,395.60 L927.65,393.60 L928.35,393.60 L928.90,395.60 L929.30,398.60ZM930.60,398.60 L931.15,390.69 L931.35,382.78 L931.75,378.26 L932.10,376.00 L932.70,376.00 L933.05,378.26 L933.45,382.78 L933.65,390.69 L934.20,398.60ZM933.59,398.60 L934.15,390.55 L934.35,382.50 L934.75,377.90 L935.10,375.60 L935.70,375.60 L936.05,377.90 L936.45,382.50 L936.65,390.55 L937.21,398.60ZM937.70,398.60 L938.10,395.60 L938.65,393.60 L939.35,393.60 L939.90,395.60 L940.30,398.60ZM942.20,398.60 L943.15,381.80 L943.35,365.00 L943.75,355.40 L944.10,350.60 L944.70,350.60 L945.05,355.40 L945.45,365.00 L945.65,381.80 L946.60,398.60ZM949.23,398.60 L949.75,391.25 L949.95,383.90 L950.35,379.70 L950.70,377.60 L951.30,377.60 L951.65,379.70 L952.05,383.90 L952.25,391.25 L952.77,398.60ZM955.37,398.60 L955.75,393.70 L955.95,388.80 L956.35,386.00 L956.70,384.60 L957.30,384.60 L957.65,386.00 L958.05,388.80 L958.25,393.70 L958.63,398.60ZM959.01,398.60 L959.75,387.40 L959.95,376.20 L960.35,369.80 L960.70,366.60 L961.30,366.60 L961.65,369.80 L962.05,376.20 L962.25,387.40 L962.99,398.60ZM962.50,398.60 L963.45,365.95 L963.65,333.29 L964.05,314.63 L964.40,305.30 L965.00,305.30 L965.35,314.63 L965.75,333.29 L965.95,365.95 L966.90,398.60ZM966.47,398.60 L967.25,386.70 L967.45,374.80 L967.85,368.00 L968.20,364.60 L968.80,364.60 L969.15,368.00 L969.55,374.80 L969.75,386.70 L970.53,398.60ZM972.25,398.60 L972.55,395.10 L972.75,391.60 L973.15,389.60 L973.50,388.60 L974.10,388.60 L974.45,389.60 L974.85,391.60 L975.05,395.10 L975.35,398.60ZM976.70,398.60 L977.10,396.20 L977.65,394.60 L978.35,394.60 L978.90,396.20 L979.30,398.60ZM980.60,398.60 L981.55,367.24 L981.75,335.88 L982.15,317.96 L982.50,309.00 L983.10,309.00 L983.45,317.96 L983.85,335.88 L984.05,367.24 L985.00,398.60ZM986.37,398.60 L986.75,393.70 L986.95,388.80 L987.35,386.00 L987.70,384.60 L988.30,384.60 L988.65,386.00 L989.05,388.80 L989.25,393.70 L989.63,398.60ZM988.45,398.60 L989.05,389.85 L989.25,381.10 L989.65,376.10 L990.00,373.60 L990.60,373.60 L990.95,376.10 L991.35,381.10 L991.55,389.85 L992.15,398.60ZM993.51,398.60 L994.35,385.65 L994.55,372.70 L994.95,365.30 L995.30,361.60 L995.90,361.60 L996.25,365.30 L996.65,372.70 L996.85,385.65 L997.69,398.60ZM1000.20,398.60 L1001.15,379.70 L1001.35,360.80 L1001.75,350.00 L1002.10,344.60 L1002.70,344.60 L1003.05,350.00 L1003.45,360.80 L1003.65,379.70 L1004.60,398.60ZM1004.80,398.60 L1005.75,382.29 L1005.95,365.98 L1006.35,356.66 L1006.70,352.00 L1007.30,352.00 L1007.65,356.66 L1008.05,365.98 L1008.25,382.29 L1009.20,398.60ZM1010.70,398.60 L1011.10,396.20 L1011.65,394.60 L1012.35,394.60 L1012.90,396.20 L1013.30,398.60ZM1016.30,398.60 L1017.25,381.45 L1017.45,364.30 L1017.85,354.50 L1018.20,349.60 L1018.80,349.60 L1019.15,354.50 L1019.55,364.30 L1019.75,381.45 L1020.70,398.60ZM1018.30,398.60 L1019.25,381.80 L1019.45,365.00 L1019.85,355.40 L1020.20,350.60 L1020.80,350.60 L1021.15,355.40 L1021.55,365.00 L1021.75,381.80 L1022.70,398.60ZM1024.88,398.60 L1025.75,385.16 L1025.95,371.72 L1026.35,364.04 L1026.70,360.20 L1027.30,360.20 L1027.65,364.04 L1028.05,371.72 L1028.25,385.16 L1029.12,398.60ZM1029.13,398.60 L1029.75,389.50 L1029.95,380.40 L1030.35,375.20 L1030.70,372.60 L1031.30,372.60 L1031.65,375.20 L1032.05,380.40 L1032.25,389.50 L1032.87,398.60ZM1032.40,398.60 L1033.35,370.95 L1033.55,343.30 L1033.95,327.50 L1034.30,319.60 L1034.90,319.60 L1035.25,327.50 L1035.65,343.30 L1035.85,370.95 L1036.80,398.60ZM1035.30,398.60 L1036.25,377.60 L1036.45,356.60 L1036.85,344.60 L1037.20,338.60 L1037.80,338.60 L1038.15,344.60 L1038.55,356.60 L1038.75,377.60 L1039.70,398.60ZM1037.80,398.60 L1038.75,373.05 L1038.95,347.50 L1039.35,332.90 L1039.70,325.60 L1040.30,325.60 L1040.65,332.90 L1041.05,347.50 L1041.25,373.05 L1042.20,398.60ZM1042.49,398.60 L1042.75,395.80 L1042.95,393.00 L1043.35,391.40 L1043.70,390.60 L1044.30,390.60 L1044.65,391.40 L1045.05,393.00 L1045.25,395.80 L1045.51,398.60ZM1045.37,398.60 L1046.15,386.70 L1046.35,374.80 L1046.75,368.00 L1047.10,364.60 L1047.70,364.60 L1048.05,368.00 L1048.45,374.80 L1048.65,386.70 L1049.43,398.60ZM1048.70,398.60 L1049.10,395.60 L1049.65,393.60 L1050.35,393.60 L1050.90,395.60 L1051.30,398.60ZM91.30,398.60 L91.57,395.72 L91.77,392.83 L92.17,391.18 L92.52,390.36 L93.12,390.36 L93.47,391.18 L93.87,392.83 L94.07,395.72 L94.33,398.60ZM93.08,398.60 L93.36,395.34 L93.56,392.07 L93.96,390.21 L94.31,389.28 L94.91,389.28 L95.26,390.21 L95.66,392.07 L95.86,395.34 L96.15,398.60ZM99.29,398.60 L99.70,393.17 L99.90,387.75 L100.30,384.64 L100.65,383.09 L101.25,383.09 L101.60,384.64 L102.00,387.75 L102.20,393.17 L102.61,398.60ZM107.51,398.60 L107.79,395.39 L107.99,392.19 L108.39,390.36 L108.74,389.44 L109.34,389.44 L109.69,390.36 L110.09,392.19 L110.29,395.39 L110.57,398.60ZM116.31,398.60 L116.73,392.93 L116.93,387.27 L117.33,384.03 L117.68,382.41 L118.28,382.41 L118.63,384.03 L119.03,387.27 L119.23,392.93 L119.65,398.60ZM117.25,398.60 L117.54,395.29 L117.74,391.99 L118.14,390.10 L118.49,389.15 L119.09,389.15 L119.44,390.10 L119.84,391.99 L120.04,395.29 L120.33,398.60ZM120.31,398.60 L121.11,386.43 L121.31,374.25 L121.71,367.30 L122.06,363.82 L122.66,363.82 L123.01,367.30 L123.41,374.25 L123.61,386.43 L124.40,398.60ZM127.45,398.60 L128.22,386.90 L128.42,375.19 L128.82,368.50 L129.17,365.16 L129.77,365.16 L130.12,368.50 L130.52,375.19 L130.72,386.90 L131.49,398.60ZM134.01,398.60 L134.34,394.67 L134.54,390.75 L134.94,388.50 L135.29,387.38 L135.89,387.38 L136.24,388.50 L136.64,390.75 L136.84,394.67 L137.16,398.60ZM135.29,398.60 L135.60,394.83 L135.80,391.05 L136.20,388.90 L136.55,387.82 L137.15,387.82 L137.50,388.90 L137.90,391.05 L138.10,394.83 L138.42,398.60ZM137.79,398.60 L138.14,394.32 L138.34,390.04 L138.74,387.59 L139.09,386.37 L139.69,386.37 L140.04,387.59 L140.44,390.04 L140.64,394.32 L140.98,398.60ZM142.61,398.60 L142.97,393.95 L143.17,389.30 L143.57,386.65 L143.92,385.32 L144.52,385.32 L144.87,386.65 L145.27,389.30 L145.47,393.95 L145.84,398.60ZM153.23,398.60 L153.62,393.44 L153.82,388.29 L154.22,385.34 L154.57,383.87 L155.17,383.87 L155.52,385.34 L155.92,388.29 L156.12,393.44 L156.52,398.60ZM158.98,398.60 L159.57,389.95 L159.77,381.29 L160.17,376.35 L160.52,373.88 L161.12,373.88 L161.47,376.35 L161.87,381.29 L162.07,389.95 L162.67,398.60ZM167.24,398.60 L167.57,394.61 L167.77,390.63 L168.17,388.35 L168.52,387.21 L169.12,387.21 L169.47,388.35 L169.87,390.63 L170.07,394.61 L170.39,398.60ZM170.04,398.60 L170.57,391.20 L170.77,383.81 L171.17,379.58 L171.52,377.47 L172.12,377.47 L172.47,379.58 L172.87,383.81 L173.07,391.20 L173.59,398.60ZM175.75,398.60 L176.13,393.68 L176.33,388.76 L176.73,385.95 L177.08,384.54 L177.68,384.54 L178.03,385.95 L178.43,388.76 L178.63,393.68 L179.01,398.60ZM179.25,398.60 L180.03,386.72 L180.23,374.84 L180.63,368.05 L180.98,364.65 L181.58,364.65 L181.93,368.05 L182.33,374.84 L182.53,386.72 L183.31,398.60ZM198.21,398.60 L198.54,394.63 L198.74,390.65 L199.14,388.38 L199.49,387.25 L200.09,387.25 L200.44,388.38 L200.84,390.65 L201.04,394.63 L201.36,398.60ZM211.19,398.60 L211.59,394.46 L212.14,391.70 L212.84,391.70 L213.39,394.46 L213.79,398.60ZM213.64,398.60 L214.09,392.52 L214.29,386.44 L214.69,382.96 L215.04,381.22 L215.64,381.22 L215.99,382.96 L216.39,386.44 L216.59,392.52 L217.03,398.60ZM218.97,398.60 L219.76,386.55 L219.96,374.51 L220.36,367.62 L220.71,364.18 L221.31,364.18 L221.66,367.62 L222.06,374.51 L222.26,386.55 L223.05,398.60ZM226.25,398.60 L227.01,387.00 L227.21,375.41 L227.61,368.78 L227.96,365.47 L228.56,365.47 L228.91,368.78 L229.31,375.41 L229.51,387.00 L230.28,398.60ZM234.30,398.60 L234.68,393.70 L234.88,388.81 L235.28,386.01 L235.63,384.61 L236.23,384.61 L236.58,386.01 L236.98,388.81 L237.18,393.70 L237.56,398.60ZM238.35,398.60 L238.67,394.74 L238.87,390.89 L239.27,388.68 L239.62,387.58 L240.22,387.58 L240.57,388.68 L240.97,390.89 L241.17,394.74 L241.49,398.60ZM250.52,398.60 L250.99,392.11 L251.19,385.63 L251.59,381.92 L251.94,380.07 L252.54,380.07 L252.89,381.92 L253.29,385.63 L253.49,392.11 L253.96,398.60ZM253.36,398.60 L253.69,394.58 L253.89,390.57 L254.29,388.27 L254.64,387.13 L255.24,387.13 L255.59,388.27 L255.99,390.57 L256.19,394.58 L256.52,398.60ZM259.04,398.60 L259.35,394.81 L259.55,391.02 L259.95,388.85 L260.30,387.77 L260.90,387.77 L261.25,388.85 L261.65,391.02 L261.85,394.81 L262.17,398.60ZM283.02,398.60 L283.60,390.14 L283.80,381.67 L284.20,376.83 L284.55,374.41 L285.15,374.41 L285.50,376.83 L285.90,381.67 L286.10,390.14 L286.69,398.60ZM289.02,398.60 L289.39,393.85 L289.59,389.11 L289.99,386.40 L290.34,385.04 L290.94,385.04 L291.29,386.40 L291.69,389.11 L291.89,393.85 L292.26,398.60ZM288.81,398.60 L289.53,387.70 L289.73,376.79 L290.13,370.56 L290.48,367.45 L291.08,367.45 L291.43,370.56 L291.83,376.79 L292.03,387.70 L292.75,398.60ZM292.88,398.60 L293.19,394.83 L293.39,391.07 L293.79,388.92 L294.14,387.84 L294.74,387.84 L295.09,388.92 L295.49,391.07 L295.69,394.83 L296.01,398.60ZM306.59,398.60 L307.25,388.84 L307.45,379.08 L307.85,373.50 L308.20,370.71 L308.80,370.71 L309.15,373.50 L309.55,379.08 L309.75,388.84 L310.41,398.60ZM307.49,398.60 L308.19,388.02 L308.39,377.45 L308.79,371.40 L309.14,368.38 L309.74,368.38 L310.09,371.40 L310.49,377.45 L310.69,388.02 L311.40,398.60ZM314.28,398.60 L314.77,391.79 L314.97,384.98 L315.37,381.09 L315.72,379.15 L316.32,379.15 L316.67,381.09 L317.07,384.98 L317.27,391.79 L317.76,398.60ZM317.26,398.60 L317.63,393.83 L317.83,389.06 L318.23,386.34 L318.58,384.97 L319.18,384.97 L319.53,386.34 L319.93,389.06 L320.13,393.83 L320.50,398.60ZM319.90,398.60 L320.85,380.80 L321.05,363.00 L321.45,352.83 L321.80,347.75 L322.40,347.75 L322.75,352.83 L323.15,363.00 L323.35,380.80 L324.30,398.60ZM326.13,398.60 L326.49,394.09 L326.69,389.59 L327.09,387.01 L327.44,385.72 L328.04,385.72 L328.39,387.01 L328.79,389.59 L328.99,394.09 L329.35,398.60ZM334.01,398.60 L334.96,383.05 L335.16,367.51 L335.56,358.62 L335.91,354.18 L336.51,354.18 L336.86,358.62 L337.26,367.51 L337.46,383.05 L338.41,398.60ZM341.25,398.60 L341.71,392.24 L341.91,385.88 L342.31,382.24 L342.66,380.42 L343.26,380.42 L343.61,382.24 L344.01,385.88 L344.21,392.24 L344.67,398.60ZM352.20,398.60 L352.63,392.78 L352.83,386.96 L353.23,383.63 L353.58,381.97 L354.18,381.97 L354.53,383.63 L354.93,386.96 L355.13,392.78 L355.56,398.60ZM365.87,398.60 L366.16,395.22 L366.36,391.85 L366.76,389.92 L367.11,388.95 L367.71,388.95 L368.06,389.92 L368.46,391.85 L368.66,395.22 L368.95,398.60ZM371.75,398.60 L372.70,382.09 L372.90,365.57 L373.30,356.14 L373.65,351.42 L374.25,351.42 L374.60,356.14 L375.00,365.57 L375.20,382.09 L376.15,398.60ZM377.10,398.60 L377.57,392.14 L377.77,385.67 L378.17,381.98 L378.52,380.13 L379.12,380.13 L379.47,381.98 L379.87,385.67 L380.07,392.14 L380.54,398.60ZM393.04,398.60 L393.53,391.80 L393.73,385.01 L394.13,381.13 L394.48,379.18 L395.08,379.18 L395.43,381.13 L395.83,385.01 L396.03,391.80 L396.52,398.60ZM405.01,398.60 L405.35,394.31 L405.55,390.03 L405.95,387.58 L406.30,386.35 L406.90,386.35 L407.25,387.58 L407.65,390.03 L407.85,394.31 L408.20,398.60ZM410.09,398.60 L410.67,390.25 L410.87,381.89 L411.27,377.12 L411.62,374.74 L412.22,374.74 L412.57,377.12 L412.97,381.89 L413.17,390.25 L413.75,398.60ZM414.47,398.60 L415.31,385.66 L415.51,372.71 L415.91,365.31 L416.26,361.62 L416.86,361.62 L417.21,365.31 L417.61,372.71 L417.81,385.66 L418.65,398.60ZM424.58,398.60 L424.88,395.12 L425.08,391.63 L425.48,389.64 L425.83,388.65 L426.43,388.65 L426.78,389.64 L427.18,391.63 L427.38,395.12 L427.68,398.60ZM426.22,398.60 L426.59,393.86 L426.79,389.12 L427.19,386.42 L427.54,385.06 L428.14,385.06 L428.49,386.42 L428.89,389.12 L429.09,393.86 L429.46,398.60ZM432.46,398.60 L433.04,390.33 L433.24,382.07 L433.64,377.35 L433.99,374.98 L434.59,374.98 L434.94,377.35 L435.34,382.07 L435.54,390.33 L436.11,398.60ZM436.79,398.60 L437.30,391.33 L437.50,384.06 L437.90,379.91 L438.25,377.83 L438.85,377.83 L439.20,379.91 L439.60,384.06 L439.80,391.33 L440.32,398.60ZM440.90,398.60 L441.33,392.83 L441.53,387.06 L441.93,383.76 L442.28,382.11 L442.88,382.11 L443.23,383.76 L443.63,387.06 L443.83,392.83 L444.26,398.60ZM445.74,398.60 L446.02,395.51 L446.22,392.43 L446.62,390.67 L446.97,389.79 L447.57,389.79 L447.92,390.67 L448.32,392.43 L448.52,395.51 L448.80,398.60ZM450.90,398.60 L451.24,394.39 L451.44,390.19 L451.84,387.78 L452.19,386.58 L452.79,386.58 L453.14,387.78 L453.54,390.19 L453.74,394.39 L454.08,398.60ZM461.60,398.60 L461.98,393.76 L462.18,388.92 L462.58,386.16 L462.93,384.77 L463.53,384.77 L463.88,386.16 L464.28,388.92 L464.48,393.76 L464.85,398.60ZM467.32,398.60 L467.72,393.27 L467.92,387.93 L468.32,384.89 L468.67,383.36 L469.27,383.36 L469.62,384.89 L470.02,387.93 L470.22,393.27 L470.63,398.60ZM476.00,398.60 L476.49,391.76 L476.69,384.91 L477.09,381.00 L477.44,379.04 L478.04,379.04 L478.39,381.00 L478.79,384.91 L478.99,391.76 L479.48,398.60ZM482.69,398.60 L483.00,395.01 L483.20,391.43 L483.60,389.38 L483.95,388.35 L484.55,388.35 L484.90,389.38 L485.30,391.43 L485.50,395.01 L485.80,398.60ZM489.19,398.60 L489.73,390.89 L489.93,383.17 L490.33,378.77 L490.68,376.56 L491.28,376.56 L491.63,378.77 L492.03,383.17 L492.23,390.89 L492.77,398.60ZM495.37,398.60 L495.68,394.96 L495.88,391.32 L496.28,389.24 L496.63,388.20 L497.23,388.20 L497.58,389.24 L497.98,391.32 L498.18,394.96 L498.49,398.60ZM504.69,398.60 L505.41,387.81 L505.61,377.02 L506.01,370.86 L506.36,367.78 L506.96,367.78 L507.31,370.86 L507.71,377.02 L507.91,387.81 L508.62,398.60ZM515.52,398.60 L515.85,394.62 L516.05,390.63 L516.45,388.36 L516.80,387.22 L517.40,387.22 L517.75,388.36 L518.15,390.63 L518.35,394.62 L518.67,398.60ZM526.37,398.60 L527.32,381.16 L527.52,363.71 L527.92,353.75 L528.27,348.76 L528.87,348.76 L529.22,353.75 L529.62,363.71 L529.82,381.16 L530.77,398.60ZM535.63,398.60 L535.96,394.63 L536.16,390.65 L536.56,388.38 L536.91,387.25 L537.51,387.25 L537.86,388.38 L538.26,390.65 L538.46,394.63 L538.79,398.60ZM542.90,398.60 L543.30,395.05 L543.85,392.69 L544.55,392.69 L545.10,395.05 L545.50,398.60ZM545.59,398.60 L545.99,394.09 L546.54,391.08 L547.24,391.08 L547.79,394.09 L548.19,398.60ZM555.64,398.60 L556.40,387.05 L556.60,375.49 L557.00,368.89 L557.35,365.59 L557.95,365.59 L558.30,368.89 L558.70,375.49 L558.90,387.05 L559.66,398.60ZM563.57,398.60 L564.06,391.84 L564.26,385.08 L564.66,381.21 L565.01,379.28 L565.61,379.28 L565.96,381.21 L566.36,385.08 L566.56,391.84 L567.05,398.60ZM567.14,398.60 L567.71,390.41 L567.91,382.22 L568.31,377.54 L568.66,375.20 L569.26,375.20 L569.61,377.54 L570.01,382.22 L570.21,390.41 L570.78,398.60ZM576.61,398.60 L577.33,387.78 L577.53,376.95 L577.93,370.77 L578.28,367.68 L578.88,367.68 L579.23,370.77 L579.63,376.95 L579.83,387.78 L580.55,398.60ZM575.45,398.60 L575.86,393.18 L576.06,387.76 L576.46,384.67 L576.81,383.12 L577.41,383.12 L577.76,384.67 L578.16,387.76 L578.36,393.18 L578.77,398.60ZM586.02,398.60 L586.34,394.82 L586.54,391.05 L586.94,388.89 L587.29,387.81 L587.89,387.81 L588.24,388.89 L588.64,391.05 L588.84,394.82 L589.15,398.60ZM594.24,398.60 L594.75,391.50 L594.95,384.40 L595.35,380.35 L595.70,378.32 L596.30,378.32 L596.65,380.35 L597.05,384.40 L597.25,391.50 L597.76,398.60ZM599.44,398.60 L599.85,393.26 L600.05,387.93 L600.45,384.88 L600.80,383.35 L601.40,383.35 L601.75,384.88 L602.15,387.93 L602.35,393.26 L602.75,398.60ZM605.47,398.60 L605.93,392.47 L606.13,386.34 L606.53,382.84 L606.88,381.09 L607.48,381.09 L607.83,382.84 L608.23,386.34 L608.43,392.47 L608.88,398.60ZM612.42,398.60 L612.82,393.46 L613.02,388.32 L613.42,385.38 L613.77,383.91 L614.37,383.91 L614.72,385.38 L615.12,388.32 L615.32,393.46 L615.71,398.60ZM616.37,398.60 L616.77,394.92 L617.32,392.47 L618.02,392.47 L618.57,394.92 L618.97,398.60ZM624.99,398.60 L625.32,394.44 L625.52,390.27 L625.92,387.90 L626.27,386.71 L626.87,386.71 L627.22,387.90 L627.62,390.27 L627.82,394.44 L628.16,398.60ZM629.03,398.60 L629.43,395.26 L629.98,393.04 L630.68,393.04 L631.23,395.26 L631.63,398.60ZM632.61,398.60 L633.44,385.67 L633.64,372.73 L634.04,365.34 L634.39,361.64 L634.99,361.64 L635.34,365.34 L635.74,372.73 L635.94,385.67 L636.78,398.60ZM647.27,398.60 L647.67,394.78 L648.22,392.23 L648.92,392.23 L649.47,394.78 L649.87,398.60ZM658.21,398.60 L658.48,395.62 L658.68,392.64 L659.08,390.94 L659.43,390.09 L660.03,390.09 L660.38,390.94 L660.78,392.64 L660.98,395.62 L661.25,398.60ZM667.69,398.60 L668.02,394.52 L668.22,390.45 L668.62,388.12 L668.97,386.95 L669.57,386.95 L669.92,388.12 L670.32,390.45 L670.52,394.52 L670.86,398.60ZM686.46,398.60 L687.05,390.05 L687.25,381.50 L687.65,376.61 L688.00,374.17 L688.60,374.17 L688.95,376.61 L689.35,381.50 L689.55,390.05 L690.14,398.60ZM705.35,398.60 L705.95,389.84 L706.15,381.08 L706.55,376.08 L706.90,373.57 L707.50,373.57 L707.85,376.08 L708.25,381.08 L708.45,389.84 L709.05,398.60ZM736.77,398.60 L737.17,393.87 L737.72,390.72 L738.42,390.72 L738.97,393.87 L739.37,398.60ZM744.84,398.60 L745.33,391.71 L745.53,384.82 L745.93,380.88 L746.28,378.91 L746.88,378.91 L747.23,380.88 L747.63,384.82 L747.83,391.71 L748.33,398.60ZM755.65,398.60 L756.05,395.04 L756.60,392.67 L757.30,392.67 L757.85,395.04 L758.25,398.60ZM764.08,398.60 L765.01,384.05 L765.21,369.50 L765.61,361.19 L765.96,357.03 L766.56,357.03 L766.91,361.19 L767.31,369.50 L767.51,384.05 L768.44,398.60ZM775.80,398.60 L776.20,395.06 L776.75,392.71 L777.45,392.71 L778.00,395.06 L778.40,398.60ZM790.09,398.60 L790.42,394.55 L790.62,390.49 L791.02,388.17 L791.37,387.02 L791.97,387.02 L792.32,388.17 L792.72,390.49 L792.92,394.55 L793.25,398.60ZM799.96,398.60 L800.47,391.33 L800.67,384.06 L801.07,379.90 L801.42,377.82 L802.02,377.82 L802.37,379.90 L802.77,384.06 L802.97,391.33 L803.49,398.60ZM808.19,398.60 L808.52,394.59 L808.72,390.57 L809.12,388.28 L809.47,387.13 L810.07,387.13 L810.42,388.28 L810.82,390.57 L811.02,394.59 L811.35,398.60ZM817.14,398.60 L817.58,392.73 L817.78,386.85 L818.18,383.50 L818.53,381.82 L819.13,381.82 L819.48,383.50 L819.88,386.85 L820.08,392.73 L820.51,398.60ZM820.48,398.60 L820.84,394.02 L821.04,389.45 L821.44,386.84 L821.79,385.53 L822.39,385.53 L822.74,386.84 L823.14,389.45 L823.34,394.02 L823.71,398.60ZM844.50,398.60 L844.88,393.77 L845.08,388.95 L845.48,386.19 L845.83,384.81 L846.43,384.81 L846.78,386.19 L847.18,388.95 L847.38,393.77 L847.75,398.60ZM844.97,398.60 L845.44,392.17 L845.64,385.73 L846.04,382.06 L846.39,380.22 L846.99,380.22 L847.34,382.06 L847.74,385.73 L847.94,392.17 L848.41,398.60ZM857.81,398.60 L858.42,389.61 L858.62,380.61 L859.02,375.47 L859.37,372.90 L859.97,372.90 L860.32,375.47 L860.72,380.61 L860.92,389.61 L861.54,398.60ZM865.76,398.60 L866.06,395.02 L866.26,391.43 L866.66,389.39 L867.01,388.36 L867.61,388.36 L867.96,389.39 L868.36,391.43 L868.56,395.02 L868.87,398.60ZM870.56,398.60 L871.00,392.58 L871.20,386.56 L871.60,383.12 L871.95,381.39 L872.55,381.39 L872.90,383.12 L873.30,386.56 L873.50,392.58 L873.95,398.60ZM887.67,398.60 L888.07,395.02 L888.62,392.64 L889.32,392.64 L889.87,395.02 L890.27,398.60ZM897.79,398.60 L898.43,389.14 L898.63,379.68 L899.03,374.28 L899.38,371.57 L899.98,371.57 L900.33,374.28 L900.73,379.68 L900.93,389.14 L901.57,398.60ZM900.06,398.60 L900.44,393.70 L900.64,388.80 L901.04,386.00 L901.39,384.60 L901.99,384.60 L902.34,386.00 L902.74,388.80 L902.94,393.70 L903.32,398.60ZM906.61,398.60 L906.97,394.12 L907.17,389.64 L907.57,387.08 L907.92,385.80 L908.52,385.80 L908.87,387.08 L909.27,389.64 L909.47,394.12 L909.82,398.60ZM908.43,398.60 L909.35,384.16 L909.55,369.72 L909.95,361.46 L910.30,357.34 L910.90,357.34 L911.25,361.46 L911.65,369.72 L911.85,384.16 L912.78,398.60ZM912.36,398.60 L912.82,392.24 L913.02,385.88 L913.42,382.25 L913.77,380.43 L914.37,380.43 L914.72,382.25 L915.12,385.88 L915.32,392.24 L915.79,398.60ZM913.99,398.60 L914.42,392.77 L914.62,386.95 L915.02,383.62 L915.37,381.96 L915.97,381.96 L916.32,383.62 L916.72,386.95 L916.92,392.77 L917.35,398.60ZM920.89,398.60 L921.34,392.58 L921.54,386.56 L921.94,383.12 L922.29,381.40 L922.89,381.40 L923.24,383.12 L923.64,386.56 L923.84,392.58 L924.28,398.60ZM932.21,398.60 L932.56,394.29 L932.76,389.99 L933.16,387.52 L933.51,386.29 L934.11,386.29 L934.46,387.52 L934.86,389.99 L935.06,394.29 L935.40,398.60ZM935.51,398.60 L935.79,395.44 L935.99,392.28 L936.39,390.47 L936.74,389.57 L937.34,389.57 L937.69,390.47 L938.09,392.28 L938.29,395.44 L938.57,398.60ZM943.94,398.60 L944.64,388.24 L944.84,377.88 L945.24,371.96 L945.59,369.00 L946.19,369.00 L946.54,371.96 L946.94,377.88 L947.14,388.24 L947.83,398.60ZM950.83,398.60 L951.13,395.09 L951.33,391.58 L951.73,389.57 L952.08,388.57 L952.68,388.57 L953.03,389.57 L953.43,391.58 L953.63,395.09 L953.93,398.60ZM954.65,398.60 L955.05,395.08 L955.60,392.73 L956.30,392.73 L956.85,395.08 L957.25,398.60ZM957.74,398.60 L958.20,392.45 L958.40,386.30 L958.80,382.79 L959.15,381.03 L959.75,381.03 L960.10,382.79 L960.50,386.30 L960.70,392.45 L961.15,398.60ZM961.27,398.60 L962.22,382.96 L962.42,367.33 L962.82,358.40 L963.17,353.93 L963.77,353.93 L964.12,358.40 L964.52,367.33 L964.72,382.96 L965.67,398.60ZM965.07,398.60 L965.55,391.93 L965.75,385.26 L966.15,381.45 L966.50,379.55 L967.10,379.55 L967.45,381.45 L967.85,385.26 L968.05,391.93 L968.53,398.60ZM979.67,398.60 L980.46,386.47 L980.66,374.35 L981.06,367.42 L981.41,363.95 L982.01,363.95 L982.36,367.42 L982.76,374.35 L982.96,386.47 L983.76,398.60ZM985.20,398.60 L985.60,395.32 L986.15,393.13 L986.85,393.13 L987.40,395.32 L987.80,398.60ZM990.20,398.60 L990.54,394.39 L990.74,390.18 L991.14,387.77 L991.49,386.57 L992.09,386.57 L992.44,387.77 L992.84,390.18 L993.04,394.39 L993.38,398.60ZM992.47,398.60 L992.92,392.46 L993.12,386.32 L993.52,382.81 L993.87,381.06 L994.47,381.06 L994.82,382.81 L995.22,386.32 L995.42,392.46 L995.87,398.60ZM999.56,398.60 L1000.10,390.78 L1000.30,382.95 L1000.70,378.48 L1001.05,376.25 L1001.65,376.25 L1002.00,378.48 L1002.40,382.95 L1002.60,390.78 L1003.15,398.60ZM1003.65,398.60 L1004.29,389.24 L1004.49,379.89 L1004.89,374.54 L1005.24,371.87 L1005.84,371.87 L1006.19,374.54 L1006.59,379.89 L1006.79,389.24 L1007.42,398.60ZM1017.68,398.60 L1018.29,389.64 L1018.49,380.68 L1018.89,375.55 L1019.24,372.99 L1019.84,372.99 L1020.19,375.55 L1020.59,380.68 L1020.79,389.64 L1021.40,398.60ZM1020.39,398.60 L1020.86,392.04 L1021.06,385.49 L1021.46,381.74 L1021.81,379.87 L1022.41,379.87 L1022.76,381.74 L1023.16,385.49 L1023.36,392.04 L1023.84,398.60ZM1026.29,398.60 L1026.81,391.13 L1027.01,383.66 L1027.41,379.40 L1027.76,377.26 L1028.36,377.26 L1028.71,379.40 L1029.11,383.66 L1029.31,391.13 L1029.84,398.60ZM1030.66,398.60 L1031.09,392.85 L1031.29,387.11 L1031.69,383.82 L1032.04,382.18 L1032.64,382.18 L1032.99,383.82 L1033.39,387.11 L1033.59,392.85 L1034.02,398.60ZM1034.27,398.60 L1034.99,387.78 L1035.19,376.95 L1035.59,370.77 L1035.94,367.67 L1036.54,367.67 L1036.89,370.77 L1037.29,376.95 L1037.49,387.78 L1038.21,398.60ZM1036.61,398.60 L1037.36,387.27 L1037.56,375.95 L1037.96,369.47 L1038.31,366.24 L1038.91,366.24 L1039.26,369.47 L1039.66,375.95 L1039.86,387.27 L1040.60,398.60ZM1039.53,398.60 L1040.39,385.40 L1040.59,372.21 L1040.99,364.67 L1041.34,360.90 L1041.94,360.90 L1042.29,364.67 L1042.69,372.21 L1042.89,385.40 L1043.74,398.60ZM1044.52,398.60 L1044.97,392.47 L1045.17,386.33 L1045.57,382.83 L1045.92,381.07 L1046.52,381.07 L1046.87,382.83 L1047.27,386.33 L1047.47,392.47 L1047.92,398.60ZM97.12,398.60 L97.52,395.18 L98.07,392.90 L98.77,392.90 L99.32,395.18 L99.72,398.60ZM111.03,398.60 L111.43,395.99 L111.98,394.25 L112.68,394.25 L113.23,395.99 L113.63,398.60ZM164.04,398.60 L164.44,395.89 L164.99,394.08 L165.69,394.08 L166.24,395.89 L166.64,398.60ZM194.56,398.60 L194.96,397.18 L195.51,396.24 L196.21,396.24 L196.76,397.18 L197.16,398.60ZM222.25,398.60 L222.65,395.04 L223.20,392.67 L223.90,392.67 L224.45,395.04 L224.85,398.60ZM236.66,398.60 L237.06,397.02 L237.61,395.97 L238.31,395.97 L238.86,397.02 L239.26,398.60ZM242.17,398.60 L242.57,397.26 L243.12,396.36 L243.82,396.36 L244.37,397.26 L244.77,398.60ZM247.52,398.60 L247.92,397.33 L248.47,396.48 L249.17,396.48 L249.72,397.33 L250.12,398.60ZM345.33,398.60 L345.73,395.38 L346.28,393.23 L346.98,393.23 L347.53,395.38 L347.93,398.60ZM356.65,398.60 L357.05,396.20 L357.60,394.60 L358.30,394.60 L358.85,396.20 L359.25,398.60ZM381.62,398.60 L382.02,396.73 L382.57,395.49 L383.27,395.49 L383.82,396.73 L384.22,398.60ZM501.40,398.60 L501.80,396.71 L502.35,395.44 L503.05,395.44 L503.60,396.71 L504.00,398.60ZM532.52,398.60 L532.92,396.44 L533.47,395.00 L534.17,395.00 L534.72,396.44 L535.12,398.60ZM621.96,398.60 L622.36,395.37 L622.91,393.21 L623.61,393.21 L624.16,395.37 L624.56,398.60ZM635.31,398.60 L635.71,395.22 L636.26,392.96 L636.96,392.96 L637.51,395.22 L637.91,398.60ZM652.66,398.60 L653.06,396.45 L653.61,395.01 L654.31,395.01 L654.86,396.45 L655.26,398.60ZM671.91,398.60 L672.31,395.53 L672.86,393.49 L673.56,393.49 L674.11,395.53 L674.51,398.60ZM677.06,398.60 L677.46,396.60 L678.01,395.27 L678.71,395.27 L679.26,396.60 L679.66,398.60ZM699.51,398.60 L699.91,397.16 L700.46,396.20 L701.16,396.20 L701.71,397.16 L702.11,398.60ZM702.74,398.60 L703.14,396.97 L703.69,395.89 L704.39,395.89 L704.94,396.97 L705.34,398.60ZM708.04,398.60 L708.44,396.94 L708.99,395.84 L709.69,395.84 L710.24,396.94 L710.64,398.60ZM719.35,398.60 L719.75,397.12 L720.30,396.13 L721.00,396.13 L721.55,397.12 L721.95,398.60ZM730.17,398.60 L730.57,396.75 L731.12,395.52 L731.82,395.52 L732.37,396.75 L732.77,398.60ZM758.61,398.60 L759.01,396.89 L759.56,395.76 L760.26,395.76 L760.81,396.89 L761.21,398.60ZM772.53,398.60 L772.93,395.86 L773.48,394.03 L774.18,394.03 L774.73,395.86 L775.13,398.60ZM781.01,398.60 L781.41,396.89 L781.96,395.75 L782.66,395.75 L783.21,396.89 L783.61,398.60ZM786.42,398.60 L786.82,396.61 L787.37,395.28 L788.07,395.28 L788.62,396.61 L789.02,398.60ZM797.02,398.60 L797.42,397.18 L797.97,396.24 L798.67,396.24 L799.22,397.18 L799.62,398.60ZM825.05,398.60 L825.45,395.96 L826.00,394.19 L826.70,394.19 L827.25,395.96 L827.65,398.60ZM850.33,398.60 L850.73,395.10 L851.28,392.76 L851.98,392.76 L852.53,395.10 L852.93,398.60ZM861.59,398.60 L861.99,395.32 L862.54,393.13 L863.24,393.13 L863.79,395.32 L864.19,398.60ZM903.10,398.60 L903.50,395.22 L904.05,392.97 L904.75,392.97 L905.30,395.22 L905.70,398.60ZM970.09,398.60 L970.49,395.63 L971.04,393.64 L971.74,393.64 L972.29,395.63 L972.69,398.60ZM1023.71,398.60 L1024.11,395.28 L1024.66,393.07 L1025.36,393.07 L1025.91,395.28 L1026.31,398.60ZM1051.19,398.60 L1051.59,397.15 L1052.14,396.18 L1052.84,396.18 L1053.39,397.15 L1053.79,398.60Z" fill="#1c8b47"/>
<path d="M91.60,398.60 L92.00,401.00 L92.55,402.60 L93.25,402.60 L93.80,401.00 L94.20,398.60ZM98.40,398.60 L98.80,402.50 L99.35,405.10 L100.05,405.10 L100.60,402.50 L101.00,398.60ZM104.20,398.60 L104.60,403.16 L105.15,406.20 L105.85,406.20 L106.40,403.16 L106.80,398.60ZM111.70,398.60 L112.10,399.80 L112.65,400.60 L113.35,400.60 L113.90,399.80 L114.30,398.60ZM118.70,398.60 L119.10,399.80 L119.65,400.60 L120.35,400.60 L120.90,399.80 L121.30,398.60ZM130.65,398.60 L131.15,405.60 L131.35,412.60 L131.75,416.60 L132.10,418.60 L132.70,418.60 L133.05,416.60 L133.45,412.60 L133.65,405.60 L134.15,398.60ZM135.70,398.60 L136.10,403.16 L136.65,406.20 L137.35,406.20 L137.90,403.16 L138.30,398.60ZM140.91,398.60 L141.75,411.55 L141.95,424.50 L142.35,431.90 L142.70,435.60 L143.30,435.60 L143.65,431.90 L144.05,424.50 L144.25,411.55 L145.09,398.60ZM146.70,398.60 L147.10,400.40 L147.65,401.60 L148.35,401.60 L148.90,400.40 L149.30,398.60ZM151.43,398.60 L152.25,411.20 L152.45,423.80 L152.85,431.00 L153.20,434.60 L153.80,434.60 L154.15,431.00 L154.55,423.80 L154.75,411.20 L155.57,398.60ZM157.88,398.60 L158.55,408.65 L158.75,418.69 L159.15,424.43 L159.50,427.30 L160.10,427.30 L160.45,424.43 L160.85,418.69 L161.05,408.65 L161.72,398.60ZM163.09,398.60 L163.75,408.40 L163.95,418.20 L164.35,423.80 L164.70,426.60 L165.30,426.60 L165.65,423.80 L166.05,418.20 L166.25,408.40 L166.91,398.60ZM168.70,398.60 L169.10,403.16 L169.65,406.20 L170.35,406.20 L170.90,403.16 L171.30,398.60ZM173.50,398.60 L174.45,419.95 L174.65,441.30 L175.05,453.50 L175.40,459.60 L176.00,459.60 L176.35,453.50 L176.75,441.30 L176.95,419.95 L177.90,398.60ZM179.70,398.60 L180.10,403.16 L180.65,406.20 L181.35,406.20 L181.90,403.16 L182.30,398.60ZM183.03,398.60 L183.75,409.45 L183.95,420.30 L184.35,426.50 L184.70,429.60 L185.30,429.60 L185.65,426.50 L186.05,420.30 L186.25,409.45 L186.97,398.60ZM185.59,398.60 L186.25,408.40 L186.45,418.20 L186.85,423.80 L187.20,426.60 L187.80,426.60 L188.15,423.80 L188.55,418.20 L188.75,408.40 L189.41,398.60ZM191.59,398.60 L192.35,410.15 L192.55,421.70 L192.95,428.30 L193.30,431.60 L193.90,431.60 L194.25,428.30 L194.65,421.70 L194.85,410.15 L195.61,398.60ZM196.49,398.60 L196.75,401.40 L196.95,404.20 L197.35,405.80 L197.70,406.60 L198.30,406.60 L198.65,405.80 L199.05,404.20 L199.25,401.40 L199.51,398.60ZM201.30,398.60 L202.25,421.00 L202.45,443.40 L202.85,456.20 L203.20,462.60 L203.80,462.60 L204.15,456.20 L204.55,443.40 L204.75,421.00 L205.70,398.60ZM205.05,398.60 L205.75,409.10 L205.95,419.60 L206.35,425.60 L206.70,428.60 L207.30,428.60 L207.65,425.60 L208.05,419.60 L208.25,409.10 L208.95,398.60ZM212.07,398.60 L212.75,408.75 L212.95,418.90 L213.35,424.70 L213.70,427.60 L214.30,427.60 L214.65,424.70 L215.05,418.90 L215.25,408.75 L215.93,398.60ZM217.70,398.60 L218.10,401.60 L218.65,403.60 L219.35,403.60 L219.90,401.60 L220.30,398.60ZM221.70,398.60 L222.65,417.15 L222.85,435.70 L223.25,446.30 L223.60,451.60 L224.20,451.60 L224.55,446.30 L224.95,435.70 L225.15,417.15 L226.10,398.60ZM226.70,398.60 L227.10,401.60 L227.65,403.60 L228.35,403.60 L228.90,401.60 L229.30,398.60ZM230.28,398.60 L230.75,405.11 L230.95,411.62 L231.35,415.34 L231.70,417.20 L232.30,417.20 L232.65,415.34 L233.05,411.62 L233.25,405.11 L233.72,398.60ZM234.20,398.60 L234.60,402.20 L235.15,404.60 L235.85,404.60 L236.40,402.20 L236.80,398.60ZM236.80,398.60 L237.75,416.10 L237.95,433.60 L238.35,443.60 L238.70,448.60 L239.30,448.60 L239.65,443.60 L240.05,433.60 L240.25,416.10 L241.20,398.60ZM241.45,398.60 L241.75,402.10 L241.95,405.60 L242.35,407.60 L242.70,408.60 L243.30,408.60 L243.65,407.60 L244.05,405.60 L244.25,402.10 L244.55,398.60ZM244.30,398.60 L245.25,415.65 L245.45,432.69 L245.85,442.43 L246.20,447.30 L246.80,447.30 L247.15,442.43 L247.55,432.69 L247.75,415.65 L248.70,398.60ZM249.70,398.60 L250.10,402.20 L250.65,404.60 L251.35,404.60 L251.90,402.20 L252.30,398.60ZM253.78,398.60 L254.25,405.11 L254.45,411.62 L254.85,415.34 L255.20,417.20 L255.80,417.20 L256.15,415.34 L256.55,411.62 L256.75,405.11 L257.22,398.60ZM257.70,398.60 L258.10,401.60 L258.65,403.60 L259.35,403.60 L259.90,401.60 L260.30,398.60ZM261.60,398.60 L262.55,421.00 L262.75,443.40 L263.15,456.20 L263.50,462.60 L264.10,462.60 L264.45,456.20 L264.85,443.40 L265.05,421.00 L266.00,398.60ZM266.49,398.60 L266.75,401.40 L266.95,404.20 L267.35,405.80 L267.70,406.60 L268.30,406.60 L268.65,405.80 L269.05,404.20 L269.25,401.40 L269.51,398.60ZM272.70,398.60 L273.10,401.60 L273.65,403.60 L274.35,403.60 L274.90,401.60 L275.30,398.60ZM274.71,398.60 L275.25,406.30 L275.45,414.00 L275.85,418.40 L276.20,420.60 L276.80,420.60 L277.15,418.40 L277.55,414.00 L277.75,406.30 L278.29,398.60ZM276.59,398.60 L277.25,408.40 L277.45,418.20 L277.85,423.80 L278.20,426.60 L278.80,426.60 L279.15,423.80 L279.55,418.20 L279.75,408.40 L280.41,398.60ZM278.10,398.60 L278.75,408.26 L278.95,417.92 L279.35,423.44 L279.70,426.20 L280.30,426.20 L280.65,423.44 L281.05,417.92 L281.25,408.26 L281.90,398.60ZM279.10,398.60 L280.05,419.60 L280.25,440.60 L280.65,452.60 L281.00,458.60 L281.60,458.60 L281.95,452.60 L282.35,440.60 L282.55,419.60 L283.50,398.60ZM280.60,398.60 L281.55,437.45 L281.75,476.30 L282.15,498.50 L282.50,509.60 L283.10,509.60 L283.45,498.50 L283.85,476.30 L284.05,437.45 L285.00,398.60ZM281.80,398.60 L282.75,417.85 L282.95,437.10 L283.35,448.10 L283.70,453.60 L284.30,453.60 L284.65,448.10 L285.05,437.10 L285.25,417.85 L286.20,398.60ZM284.49,398.60 L284.75,401.40 L284.95,404.20 L285.35,405.80 L285.70,406.60 L286.30,406.60 L286.65,405.80 L287.05,404.20 L287.25,401.40 L287.51,398.60ZM288.70,398.60 L289.10,401.00 L289.65,402.60 L290.35,402.60 L290.90,401.00 L291.30,398.60ZM291.49,398.60 L291.75,401.40 L291.95,404.20 L292.35,405.80 L292.70,406.60 L293.30,406.60 L293.65,405.80 L294.05,404.20 L294.25,401.40 L294.51,398.60ZM296.20,398.60 L297.15,427.65 L297.35,456.70 L297.75,473.30 L298.10,481.60 L298.70,481.60 L299.05,473.30 L299.45,456.70 L299.65,427.65 L300.60,398.60ZM300.70,398.60 L301.10,401.60 L301.65,403.60 L302.35,403.60 L302.90,401.60 L303.30,398.60ZM305.44,398.60 L306.15,409.31 L306.35,420.02 L306.75,426.14 L307.10,429.20 L307.70,429.20 L308.05,426.14 L308.45,420.02 L308.65,409.31 L309.36,398.60ZM309.70,398.60 L310.10,402.20 L310.65,404.60 L311.35,404.60 L311.90,402.20 L312.30,398.60ZM312.07,398.60 L312.75,408.75 L312.95,418.90 L313.35,424.70 L313.70,427.60 L314.30,427.60 L314.65,424.70 L315.05,418.90 L315.25,408.75 L315.93,398.60ZM316.10,398.60 L317.05,421.00 L317.25,443.40 L317.65,456.20 L318.00,462.60 L318.60,462.60 L318.95,456.20 L319.35,443.40 L319.55,421.00 L320.50,398.60ZM319.55,398.60 L320.25,409.10 L320.45,419.60 L320.85,425.60 L321.20,428.60 L321.80,428.60 L322.15,425.60 L322.55,419.60 L322.75,409.10 L323.45,398.60ZM322.83,398.60 L323.75,412.95 L323.95,427.30 L324.35,435.50 L324.70,439.60 L325.30,439.60 L325.65,435.50 L326.05,427.30 L326.25,412.95 L327.17,398.60ZM327.70,398.60 L328.10,401.60 L328.65,403.60 L329.35,403.60 L329.90,401.60 L330.30,398.60ZM331.10,398.60 L332.05,418.90 L332.25,439.20 L332.65,450.80 L333.00,456.60 L333.60,456.60 L333.95,450.80 L334.35,439.20 L334.55,418.90 L335.50,398.60ZM335.70,398.60 L336.10,401.60 L336.65,403.60 L337.35,403.60 L337.90,401.60 L338.30,398.60ZM338.60,398.60 L339.55,414.00 L339.75,429.40 L340.15,438.20 L340.50,442.60 L341.10,442.60 L341.45,438.20 L341.85,429.40 L342.05,414.00 L343.00,398.60ZM343.70,398.60 L344.10,401.60 L344.65,403.60 L345.35,403.60 L345.90,401.60 L346.30,398.60ZM346.95,398.60 L347.75,410.85 L347.95,423.10 L348.35,430.10 L348.70,433.60 L349.30,433.60 L349.65,430.10 L350.05,423.10 L350.25,410.85 L351.05,398.60ZM351.49,398.60 L351.75,401.40 L351.95,404.20 L352.35,405.80 L352.70,406.60 L353.30,406.60 L353.65,405.80 L354.05,404.20 L354.25,401.40 L354.51,398.60ZM357.04,398.60 L357.75,409.31 L357.95,420.02 L358.35,426.14 L358.70,429.20 L359.30,429.20 L359.65,426.14 L360.05,420.02 L360.25,409.31 L360.96,398.60ZM362.70,398.60 L363.10,401.60 L363.65,403.60 L364.35,403.60 L364.90,401.60 L365.30,398.60ZM365.69,398.60 L365.95,401.40 L366.15,404.20 L366.55,405.80 L366.90,406.60 L367.50,406.60 L367.85,405.80 L368.25,404.20 L368.45,401.40 L368.71,398.60ZM369.70,398.60 L370.10,401.00 L370.65,402.60 L371.35,402.60 L371.90,401.00 L372.30,398.60ZM374.31,398.60 L374.75,404.55 L374.95,410.50 L375.35,413.90 L375.70,415.60 L376.30,415.60 L376.65,413.90 L377.05,410.50 L377.25,404.55 L377.69,398.60ZM378.70,398.60 L379.10,401.00 L379.65,402.60 L380.35,402.60 L380.90,401.00 L381.30,398.60ZM382.02,398.60 L382.55,406.16 L382.75,413.72 L383.15,418.04 L383.50,420.20 L384.10,420.20 L384.45,418.04 L384.85,413.72 L385.05,406.16 L385.58,398.60ZM384.45,398.60 L384.75,402.10 L384.95,405.60 L385.35,407.60 L385.70,408.60 L386.30,408.60 L386.65,407.60 L387.05,405.60 L387.25,402.10 L387.55,398.60ZM387.60,398.60 L388.55,414.00 L388.75,429.40 L389.15,438.20 L389.50,442.60 L390.10,442.60 L390.45,438.20 L390.85,429.40 L391.05,414.00 L392.00,398.60ZM391.70,398.60 L392.10,401.60 L392.65,403.60 L393.35,403.60 L393.90,401.60 L394.30,398.60ZM394.40,398.60 L395.35,422.40 L395.55,446.20 L395.95,459.80 L396.30,466.60 L396.90,466.60 L397.25,459.80 L397.65,446.20 L397.85,422.40 L398.80,398.60ZM397.85,398.60 L398.75,412.60 L398.95,426.60 L399.35,434.60 L399.70,438.60 L400.30,438.60 L400.65,434.60 L401.05,426.60 L401.25,412.60 L402.15,398.60ZM400.40,398.60 L401.35,416.10 L401.55,433.60 L401.95,443.60 L402.30,448.60 L402.90,448.60 L403.25,443.60 L403.65,433.60 L403.85,416.10 L404.80,398.60ZM404.70,398.60 L405.10,402.20 L405.65,404.60 L406.35,404.60 L406.90,402.20 L407.30,398.60ZM408.28,398.60 L408.75,405.11 L408.95,411.62 L409.35,415.34 L409.70,417.20 L410.30,417.20 L410.65,415.34 L411.05,411.62 L411.25,405.11 L411.72,398.60ZM412.70,398.60 L413.10,401.00 L413.65,402.60 L414.35,402.60 L414.90,401.00 L415.30,398.60ZM416.20,398.60 L417.15,413.55 L417.35,428.49 L417.75,437.03 L418.10,441.30 L418.70,441.30 L419.05,437.03 L419.45,428.49 L419.65,413.55 L420.60,398.60ZM421.49,398.60 L421.75,401.40 L421.95,404.20 L422.35,405.80 L422.70,406.60 L423.30,406.60 L423.65,405.80 L424.05,404.20 L424.25,401.40 L424.51,398.60ZM424.70,398.60 L425.10,402.80 L425.65,405.60 L426.35,405.60 L426.90,402.80 L427.30,398.60ZM427.50,398.60 L428.45,423.10 L428.65,447.60 L429.05,461.60 L429.40,468.60 L430.00,468.60 L430.35,461.60 L430.75,447.60 L430.95,423.10 L431.90,398.60ZM433.35,398.60 L433.75,403.85 L433.95,409.10 L434.35,412.10 L434.70,413.60 L435.30,413.60 L435.65,412.10 L436.05,409.10 L436.25,403.85 L436.65,398.60ZM436.40,398.60 L436.75,402.98 L436.95,407.35 L437.35,409.85 L437.70,411.10 L438.30,411.10 L438.65,409.85 L439.05,407.35 L439.25,402.98 L439.60,398.60ZM441.48,398.60 L442.25,410.36 L442.45,422.12 L442.85,428.84 L443.20,432.20 L443.80,432.20 L444.15,428.84 L444.55,422.12 L444.75,410.36 L445.52,398.60ZM447.10,398.60 L448.05,423.10 L448.25,447.60 L448.65,461.60 L449.00,468.60 L449.60,468.60 L449.95,461.60 L450.35,447.60 L450.55,423.10 L451.50,398.60ZM450.45,398.60 L450.75,402.10 L450.95,405.60 L451.35,407.60 L451.70,408.60 L452.30,408.60 L452.65,407.60 L453.05,405.60 L453.25,402.10 L453.55,398.60ZM452.95,398.60 L453.75,410.85 L453.95,423.10 L454.35,430.10 L454.70,433.60 L455.30,433.60 L455.65,430.10 L456.05,423.10 L456.25,410.85 L457.05,398.60ZM456.40,398.60 L457.35,419.25 L457.55,439.90 L457.95,451.70 L458.30,457.60 L458.90,457.60 L459.25,451.70 L459.65,439.90 L459.85,419.25 L460.80,398.60ZM462.70,398.60 L463.10,401.60 L463.65,403.60 L464.35,403.60 L464.90,401.60 L465.30,398.60ZM466.70,398.60 L467.10,400.40 L467.65,401.60 L468.35,401.60 L468.90,400.40 L469.30,398.60ZM469.59,398.60 L470.15,406.65 L470.35,414.70 L470.75,419.30 L471.10,421.60 L471.70,421.60 L472.05,419.30 L472.45,414.70 L472.65,406.65 L473.21,398.60ZM473.70,398.60 L474.10,401.60 L474.65,403.60 L475.35,403.60 L475.90,401.60 L476.30,398.60ZM476.07,398.60 L476.75,408.75 L476.95,418.90 L477.35,424.70 L477.70,427.60 L478.30,427.60 L478.65,424.70 L479.05,418.90 L479.25,408.75 L479.93,398.60ZM480.70,398.60 L481.10,401.00 L481.65,402.60 L482.35,402.60 L482.90,401.00 L483.30,398.60ZM483.83,398.60 L484.45,407.70 L484.65,416.80 L485.05,422.00 L485.40,424.60 L486.00,424.60 L486.35,422.00 L486.75,416.80 L486.95,407.70 L487.57,398.60ZM488.70,398.60 L489.10,401.00 L489.65,402.60 L490.35,402.60 L490.90,401.00 L491.30,398.60ZM491.80,398.60 L492.75,416.45 L492.95,434.30 L493.35,444.50 L493.70,449.60 L494.30,449.60 L494.65,444.50 L495.05,434.30 L495.25,416.45 L496.20,398.60ZM497.70,398.60 L498.10,401.00 L498.65,402.60 L499.35,402.60 L499.90,401.00 L500.30,398.60ZM500.70,398.60 L501.10,402.80 L501.65,405.60 L502.35,405.60 L502.90,402.80 L503.30,398.60ZM503.70,398.60 L504.10,401.00 L504.65,402.60 L505.35,402.60 L505.90,401.00 L506.30,398.60ZM506.52,398.60 L507.05,406.16 L507.25,413.72 L507.65,418.04 L508.00,420.20 L508.60,420.20 L508.95,418.04 L509.35,413.72 L509.55,406.16 L510.08,398.60ZM511.40,398.60 L512.35,414.00 L512.55,429.40 L512.95,438.20 L513.30,442.60 L513.90,442.60 L514.25,438.20 L514.65,429.40 L514.85,414.00 L515.80,398.60ZM515.70,398.60 L516.10,402.20 L516.65,404.60 L517.35,404.60 L517.90,402.20 L518.30,398.60ZM520.70,398.60 L521.10,401.00 L521.65,402.60 L522.35,402.60 L522.90,401.00 L523.30,398.60ZM522.95,398.60 L523.25,402.10 L523.45,405.60 L523.85,407.60 L524.20,408.60 L524.80,408.60 L525.15,407.60 L525.55,405.60 L525.75,402.10 L526.05,398.60ZM525.40,398.60 L526.35,426.25 L526.55,453.90 L526.95,469.70 L527.30,477.60 L527.90,477.60 L528.25,469.70 L528.65,453.90 L528.85,426.25 L529.80,398.60ZM529.49,398.60 L529.75,401.40 L529.95,404.20 L530.35,405.80 L530.70,406.60 L531.30,406.60 L531.65,405.80 L532.05,404.20 L532.25,401.40 L532.51,398.60ZM531.76,398.60 L532.65,412.50 L532.85,426.39 L533.25,434.33 L533.60,438.30 L534.20,438.30 L534.55,434.33 L534.95,426.39 L535.15,412.50 L536.04,398.60ZM535.70,398.60 L536.10,401.60 L536.65,403.60 L537.35,403.60 L537.90,401.60 L538.30,398.60ZM537.80,398.60 L538.75,415.05 L538.95,431.50 L539.35,440.90 L539.70,445.60 L540.30,445.60 L540.65,440.90 L541.05,431.50 L541.25,415.05 L542.20,398.60ZM543.70,398.60 L544.10,401.00 L544.65,402.60 L545.35,402.60 L545.90,401.00 L546.30,398.60ZM545.93,398.60 L546.25,402.45 L546.45,406.30 L546.85,408.50 L547.20,409.60 L547.80,409.60 L548.15,408.50 L548.55,406.30 L548.75,402.45 L549.07,398.60ZM549.70,398.60 L550.10,401.60 L550.65,403.60 L551.35,403.60 L551.90,401.60 L552.30,398.60ZM552.00,398.60 L552.95,417.75 L553.15,436.89 L553.55,447.83 L553.90,453.30 L554.50,453.30 L554.85,447.83 L555.25,436.89 L555.45,417.75 L556.40,398.60ZM556.70,398.60 L557.10,401.00 L557.65,402.60 L558.35,402.60 L558.90,401.00 L559.30,398.60ZM561.99,398.60 L562.25,401.40 L562.45,404.20 L562.85,405.80 L563.20,406.60 L563.80,406.60 L564.15,405.80 L564.55,404.20 L564.75,401.40 L565.01,398.60ZM566.70,398.60 L567.10,400.40 L567.65,401.60 L568.35,401.60 L568.90,400.40 L569.30,398.60ZM573.11,398.60 L573.55,404.55 L573.75,410.50 L574.15,413.90 L574.50,415.60 L575.10,415.60 L575.45,413.90 L575.85,410.50 L576.05,404.55 L576.49,398.60ZM577.92,398.60 L578.75,411.41 L578.95,424.22 L579.35,431.54 L579.70,435.20 L580.30,435.20 L580.65,431.54 L581.05,424.22 L581.25,411.41 L582.08,398.60ZM582.73,398.60 L583.35,407.70 L583.55,416.80 L583.95,422.00 L584.30,424.60 L584.90,424.60 L585.25,422.00 L585.65,416.80 L585.85,407.70 L586.47,398.60ZM586.70,398.60 L587.10,401.00 L587.65,402.60 L588.35,402.60 L588.90,401.00 L589.30,398.60ZM589.53,398.60 L590.15,407.70 L590.35,416.80 L590.75,422.00 L591.10,424.60 L591.70,424.60 L592.05,422.00 L592.45,416.80 L592.65,407.70 L593.27,398.60ZM594.69,398.60 L595.45,410.15 L595.65,421.70 L596.05,428.30 L596.40,431.60 L597.00,431.60 L597.35,428.30 L597.75,421.70 L597.95,410.15 L598.71,398.60ZM599.70,398.60 L600.10,401.60 L600.65,403.60 L601.35,403.60 L601.90,401.60 L602.30,398.60ZM602.70,398.60 L603.10,401.00 L603.65,402.60 L604.35,402.60 L604.90,401.00 L605.30,398.60ZM605.75,398.60 L606.25,405.60 L606.45,412.60 L606.85,416.60 L607.20,418.60 L607.80,418.60 L608.15,416.60 L608.55,412.60 L608.75,405.60 L609.25,398.60ZM608.10,398.60 L608.75,408.26 L608.95,417.92 L609.35,423.44 L609.70,426.20 L610.30,426.20 L610.65,423.44 L611.05,417.92 L611.25,408.26 L611.90,398.60ZM613.30,398.60 L614.25,415.65 L614.45,432.69 L614.85,442.43 L615.20,447.30 L615.80,447.30 L616.15,442.43 L616.55,432.69 L616.75,415.65 L617.70,398.60ZM617.70,398.60 L618.10,401.60 L618.65,403.60 L619.35,403.60 L619.90,401.60 L620.30,398.60ZM621.49,398.60 L621.75,401.40 L621.95,404.20 L622.35,405.80 L622.70,406.60 L623.30,406.60 L623.65,405.80 L624.05,404.20 L624.25,401.40 L624.51,398.60ZM625.70,398.60 L626.10,401.00 L626.65,402.60 L627.35,402.60 L627.90,401.00 L628.30,398.60ZM629.70,398.60 L630.05,403.01 L630.25,407.42 L630.65,409.94 L631.00,411.20 L631.60,411.20 L631.95,409.94 L632.35,407.42 L632.55,403.01 L632.90,398.60ZM634.40,398.60 L635.35,419.85 L635.55,441.09 L635.95,453.23 L636.30,459.30 L636.90,459.30 L637.25,453.23 L637.65,441.09 L637.85,419.85 L638.80,398.60ZM639.70,398.60 L640.10,401.60 L640.65,403.60 L641.35,403.60 L641.90,401.60 L642.30,398.60ZM644.68,398.60 L645.15,405.11 L645.35,411.62 L645.75,415.34 L646.10,417.20 L646.70,417.20 L647.05,415.34 L647.45,411.62 L647.65,405.11 L648.12,398.60ZM648.70,398.60 L649.10,402.20 L649.65,404.60 L650.35,404.60 L650.90,402.20 L651.30,398.60ZM652.79,398.60 L653.35,406.65 L653.55,414.70 L653.95,419.30 L654.30,421.60 L654.90,421.60 L655.25,419.30 L655.65,414.70 L655.85,406.65 L656.41,398.60ZM657.70,398.60 L658.10,401.00 L658.65,402.60 L659.35,402.60 L659.90,401.00 L660.30,398.60ZM661.50,398.60 L662.45,415.65 L662.65,432.69 L663.05,442.43 L663.40,447.30 L664.00,447.30 L664.35,442.43 L664.75,432.69 L664.95,415.65 L665.90,398.60ZM666.70,398.60 L667.10,401.00 L667.65,402.60 L668.35,402.60 L668.90,401.00 L669.30,398.60ZM670.92,398.60 L671.45,406.16 L671.65,413.72 L672.05,418.04 L672.40,420.20 L673.00,420.20 L673.35,418.04 L673.75,413.72 L673.95,406.16 L674.48,398.60ZM677.49,398.60 L677.75,401.40 L677.95,404.20 L678.35,405.80 L678.70,406.60 L679.30,406.60 L679.65,405.80 L680.05,404.20 L680.25,401.40 L680.51,398.60ZM683.16,398.60 L683.75,407.21 L683.95,415.82 L684.35,420.74 L684.70,423.20 L685.30,423.20 L685.65,420.74 L686.05,415.82 L686.25,407.21 L686.84,398.60ZM688.40,398.60 L689.05,408.26 L689.25,417.92 L689.65,423.44 L690.00,426.20 L690.60,426.20 L690.95,423.44 L691.35,417.92 L691.55,408.26 L692.20,398.60ZM693.94,398.60 L694.35,404.06 L694.55,409.52 L694.95,412.64 L695.30,414.20 L695.90,414.20 L696.25,412.64 L696.65,409.52 L696.85,404.06 L697.26,398.60ZM697.70,398.60 L698.10,401.00 L698.65,402.60 L699.35,402.60 L699.90,401.00 L700.30,398.60ZM701.10,398.60 L701.50,401.60 L702.05,403.60 L702.75,403.60 L703.30,401.60 L703.70,398.60ZM704.70,398.60 L705.10,402.20 L705.65,404.60 L706.35,404.60 L706.90,402.20 L707.30,398.60ZM708.22,398.60 L708.75,406.16 L708.95,413.72 L709.35,418.04 L709.70,420.20 L710.30,420.20 L710.65,418.04 L711.05,413.72 L711.25,406.16 L711.78,398.60ZM712.70,398.60 L713.10,401.00 L713.65,402.60 L714.35,402.60 L714.90,401.00 L715.30,398.60ZM719.10,398.60 L719.50,402.50 L720.05,405.10 L720.75,405.10 L721.30,402.50 L721.70,398.60ZM724.71,398.60 L725.25,406.30 L725.45,414.00 L725.85,418.40 L726.20,420.60 L726.80,420.60 L727.15,418.40 L727.55,414.00 L727.75,406.30 L728.29,398.60ZM726.05,398.60 L726.75,409.10 L726.95,419.60 L727.35,425.60 L727.70,428.60 L728.30,428.60 L728.65,425.60 L729.05,419.60 L729.25,409.10 L729.95,398.60ZM727.51,398.60 L728.25,409.80 L728.45,421.00 L728.85,427.40 L729.20,430.60 L729.80,430.60 L730.15,427.40 L730.55,421.00 L730.75,409.80 L731.49,398.60ZM728.80,398.60 L729.75,421.70 L729.95,444.80 L730.35,458.00 L730.70,464.60 L731.30,464.60 L731.65,458.00 L732.05,444.80 L732.25,421.70 L733.20,398.60ZM729.60,398.60 L730.55,437.10 L730.75,475.60 L731.15,497.60 L731.50,508.60 L732.10,508.60 L732.45,497.60 L732.85,475.60 L733.05,437.10 L734.00,398.60ZM730.80,398.60 L731.75,421.70 L731.95,444.80 L732.35,458.00 L732.70,464.60 L733.30,464.60 L733.65,458.00 L734.05,444.80 L734.25,421.70 L735.20,398.60ZM732.55,398.60 L733.25,409.10 L733.45,419.60 L733.85,425.60 L734.20,428.60 L734.80,428.60 L735.15,425.60 L735.55,419.60 L735.75,409.10 L736.45,398.60ZM734.21,398.60 L734.75,406.30 L734.95,414.00 L735.35,418.40 L735.70,420.60 L736.30,420.60 L736.65,418.40 L737.05,414.00 L737.25,406.30 L737.79,398.60ZM739.49,398.60 L739.75,401.40 L739.95,404.20 L740.35,405.80 L740.70,406.60 L741.30,406.60 L741.65,405.80 L742.05,404.20 L742.25,401.40 L742.51,398.60ZM743.43,398.60 L744.05,407.70 L744.25,416.80 L744.65,422.00 L745.00,424.60 L745.60,424.60 L745.95,422.00 L746.35,416.80 L746.55,407.70 L747.17,398.60ZM746.70,398.60 L747.10,401.00 L747.65,402.60 L748.35,402.60 L748.90,401.00 L749.30,398.60ZM749.31,398.60 L750.05,409.80 L750.25,421.00 L750.65,427.40 L751.00,430.60 L751.60,430.60 L751.95,427.40 L752.35,421.00 L752.55,409.80 L753.29,398.60ZM755.03,398.60 L755.35,402.45 L755.55,406.30 L755.95,408.50 L756.30,409.60 L756.90,409.60 L757.25,408.50 L757.65,406.30 L757.85,402.45 L758.17,398.60ZM760.30,398.60 L760.70,401.60 L761.25,403.60 L761.95,403.60 L762.50,401.60 L762.90,398.60ZM764.95,398.60 L765.75,410.85 L765.95,423.10 L766.35,430.10 L766.70,433.60 L767.30,433.60 L767.65,430.10 L768.05,423.10 L768.25,410.85 L769.05,398.60ZM769.40,398.60 L770.35,422.40 L770.55,446.20 L770.95,459.80 L771.30,466.60 L771.90,466.60 L772.25,459.80 L772.65,446.20 L772.85,422.40 L773.80,398.60ZM773.70,398.60 L774.10,401.00 L774.65,402.60 L775.35,402.60 L775.90,401.00 L776.30,398.60ZM780.37,398.60 L780.75,403.50 L780.95,408.40 L781.35,411.20 L781.70,412.60 L782.30,412.60 L782.65,411.20 L783.05,408.40 L783.25,403.50 L783.63,398.60ZM784.70,398.60 L785.10,400.40 L785.65,401.60 L786.35,401.60 L786.90,400.40 L787.30,398.60ZM791.69,398.60 L792.25,406.65 L792.45,414.70 L792.85,419.30 L793.20,421.60 L793.80,421.60 L794.15,419.30 L794.55,414.70 L794.75,406.65 L795.31,398.60ZM798.43,398.60 L799.25,411.20 L799.45,423.80 L799.85,431.00 L800.20,434.60 L800.80,434.60 L801.15,431.00 L801.55,423.80 L801.75,411.20 L802.57,398.60ZM803.70,398.60 L804.10,401.00 L804.65,402.60 L805.35,402.60 L805.90,401.00 L806.30,398.60ZM809.25,398.60 L809.75,405.60 L809.95,412.60 L810.35,416.60 L810.70,418.60 L811.30,418.60 L811.65,416.60 L812.05,412.60 L812.25,405.60 L812.75,398.60ZM814.09,398.60 L814.35,401.40 L814.55,404.20 L814.95,405.80 L815.30,406.60 L815.90,406.60 L816.25,405.80 L816.65,404.20 L816.85,401.40 L817.11,398.60ZM818.70,398.60 L819.10,401.60 L819.65,403.60 L820.35,403.60 L820.90,401.60 L821.30,398.60ZM822.45,398.60 L822.75,402.10 L822.95,405.60 L823.35,407.60 L823.70,408.60 L824.30,408.60 L824.65,407.60 L825.05,405.60 L825.25,402.10 L825.55,398.60ZM825.52,398.60 L826.35,411.41 L826.55,424.22 L826.95,431.54 L827.30,435.20 L827.90,435.20 L828.25,431.54 L828.65,424.22 L828.85,411.41 L829.68,398.60ZM829.45,398.60 L829.75,402.10 L829.95,405.60 L830.35,407.60 L830.70,408.60 L831.30,408.60 L831.65,407.60 L832.05,405.60 L832.25,402.10 L832.55,398.60ZM833.70,398.60 L834.10,401.00 L834.65,402.60 L835.35,402.60 L835.90,401.00 L836.30,398.60ZM837.16,398.60 L837.75,407.21 L837.95,415.82 L838.35,420.74 L838.70,423.20 L839.30,423.20 L839.65,420.74 L840.05,415.82 L840.25,407.21 L840.84,398.60ZM842.10,398.60 L842.50,402.50 L843.05,405.10 L843.75,405.10 L844.30,402.50 L844.70,398.60ZM846.34,398.60 L846.75,404.06 L846.95,409.52 L847.35,412.64 L847.70,414.20 L848.30,414.20 L848.65,412.64 L849.05,409.52 L849.25,404.06 L849.66,398.60ZM850.13,398.60 L850.45,402.45 L850.65,406.30 L851.05,408.50 L851.40,409.60 L852.00,409.60 L852.35,408.50 L852.75,406.30 L852.95,402.45 L853.27,398.60ZM854.70,398.60 L855.10,401.00 L855.65,402.60 L856.35,402.60 L856.90,401.00 L857.30,398.60ZM859.30,398.60 L860.25,414.00 L860.45,429.40 L860.85,438.20 L861.20,442.60 L861.80,442.60 L862.15,438.20 L862.55,429.40 L862.75,414.00 L863.70,398.60ZM863.70,398.60 L864.10,401.00 L864.65,402.60 L865.35,402.60 L865.90,401.00 L866.30,398.60ZM867.22,398.60 L867.75,406.16 L867.95,413.72 L868.35,418.04 L868.70,420.20 L869.30,420.20 L869.65,418.04 L870.05,413.72 L870.25,406.16 L870.78,398.60ZM871.70,398.60 L872.10,401.00 L872.65,402.60 L873.35,402.60 L873.90,401.00 L874.30,398.60ZM876.99,398.60 L877.55,406.65 L877.75,414.70 L878.15,419.30 L878.50,421.60 L879.10,421.60 L879.45,419.30 L879.85,414.70 L880.05,406.65 L880.61,398.60ZM880.41,398.60 L880.75,402.80 L880.95,407.00 L881.35,409.40 L881.70,410.60 L882.30,410.60 L882.65,409.40 L883.05,407.00 L883.25,402.80 L883.59,398.60ZM882.82,398.60 L883.65,411.41 L883.85,424.22 L884.25,431.54 L884.60,435.20 L885.20,435.20 L885.55,431.54 L885.95,424.22 L886.15,411.41 L886.98,398.60ZM887.70,398.60 L888.10,401.00 L888.65,402.60 L889.35,402.60 L889.90,401.00 L890.30,398.60ZM891.70,398.60 L892.10,401.00 L892.65,402.60 L893.35,402.60 L893.90,401.00 L894.30,398.60ZM897.19,398.60 L897.45,401.40 L897.65,404.20 L898.05,405.80 L898.40,406.60 L899.00,406.60 L899.35,405.80 L899.75,404.20 L899.95,401.40 L900.21,398.60ZM902.74,398.60 L903.15,404.06 L903.35,409.52 L903.75,412.64 L904.10,414.20 L904.70,414.20 L905.05,412.64 L905.45,409.52 L905.65,404.06 L906.06,398.60ZM907.70,398.60 L908.10,401.00 L908.65,402.60 L909.35,402.60 L909.90,401.00 L910.30,398.60ZM913.40,398.60 L913.75,403.01 L913.95,407.42 L914.35,409.94 L914.70,411.20 L915.30,411.20 L915.65,409.94 L916.05,407.42 L916.25,403.01 L916.60,398.60ZM920.28,398.60 L920.75,405.11 L920.95,411.62 L921.35,415.34 L921.70,417.20 L922.30,417.20 L922.65,415.34 L923.05,411.62 L923.25,405.11 L923.72,398.60ZM924.48,398.60 L925.25,410.36 L925.45,422.12 L925.85,428.84 L926.20,432.20 L926.80,432.20 L927.15,428.84 L927.55,422.12 L927.75,410.36 L928.52,398.60ZM929.49,398.60 L929.75,401.40 L929.95,404.20 L930.35,405.80 L930.70,406.60 L931.30,406.60 L931.65,405.80 L932.05,404.20 L932.25,401.40 L932.51,398.60ZM933.70,398.60 L934.10,401.00 L934.65,402.60 L935.35,402.60 L935.90,401.00 L936.30,398.60ZM937.61,398.60 L938.05,404.55 L938.25,410.50 L938.65,413.90 L939.00,415.60 L939.60,415.60 L939.95,413.90 L940.35,410.50 L940.55,404.55 L940.99,398.60ZM941.70,398.60 L942.10,401.00 L942.65,402.60 L943.35,402.60 L943.90,401.00 L944.30,398.60ZM945.41,398.60 L946.35,413.30 L946.55,428.00 L946.95,436.40 L947.30,440.60 L947.90,440.60 L948.25,436.40 L948.65,428.00 L948.85,413.30 L949.79,398.60ZM949.70,398.60 L950.10,401.00 L950.65,402.60 L951.35,402.60 L951.90,401.00 L952.30,398.60ZM954.27,398.60 L954.65,403.50 L954.85,408.40 L955.25,411.20 L955.60,412.60 L956.20,412.60 L956.55,411.20 L956.95,408.40 L957.15,403.50 L957.53,398.60ZM957.95,398.60 L958.45,405.60 L958.65,412.60 L959.05,416.60 L959.40,418.60 L960.00,418.60 L960.35,416.60 L960.75,412.60 L960.95,405.60 L961.45,398.60ZM962.70,398.60 L963.10,401.00 L963.65,402.60 L964.35,402.60 L964.90,401.00 L965.30,398.60ZM966.16,398.60 L966.75,407.21 L966.95,415.82 L967.35,420.74 L967.70,423.20 L968.30,423.20 L968.65,420.74 L969.05,415.82 L969.25,407.21 L969.84,398.60ZM970.81,398.60 L971.25,404.55 L971.45,410.50 L971.85,413.90 L972.20,415.60 L972.80,415.60 L973.15,413.90 L973.55,410.50 L973.75,404.55 L974.19,398.60ZM974.70,398.60 L975.10,401.60 L975.65,403.60 L976.35,403.60 L976.90,401.60 L977.30,398.60ZM977.10,398.60 L978.05,418.20 L978.25,437.80 L978.65,449.00 L979.00,454.60 L979.60,454.60 L979.95,449.00 L980.35,437.80 L980.55,418.20 L981.50,398.60ZM981.70,398.60 L982.10,402.20 L982.65,404.60 L983.35,404.60 L983.90,402.20 L984.30,398.60ZM983.80,398.60 L984.75,419.08 L984.95,439.55 L985.35,451.25 L985.70,457.10 L986.30,457.10 L986.65,451.25 L987.05,439.55 L987.25,419.08 L988.20,398.60ZM988.70,398.60 L989.10,401.00 L989.65,402.60 L990.35,402.60 L990.90,401.00 L991.30,398.60ZM992.70,398.60 L993.10,401.00 L993.65,402.60 L994.35,402.60 L994.90,401.00 L995.30,398.60ZM997.40,398.60 L998.35,416.70 L998.55,434.79 L998.95,445.13 L999.30,450.30 L999.90,450.30 L1000.25,445.13 L1000.65,434.79 L1000.85,416.70 L1001.80,398.60ZM1002.49,398.60 L1002.75,401.40 L1002.95,404.20 L1003.35,405.80 L1003.70,406.60 L1004.30,406.60 L1004.65,405.80 L1005.05,404.20 L1005.25,401.40 L1005.51,398.60ZM1007.41,398.60 L1007.75,402.80 L1007.95,407.00 L1008.35,409.40 L1008.70,410.60 L1009.30,410.60 L1009.65,409.40 L1010.05,407.00 L1010.25,402.80 L1010.59,398.60ZM1009.70,398.60 L1010.10,401.60 L1010.65,403.60 L1011.35,403.60 L1011.90,401.60 L1012.30,398.60ZM1013.59,398.60 L1014.15,406.65 L1014.35,414.70 L1014.75,419.30 L1015.10,421.60 L1015.70,421.60 L1016.05,419.30 L1016.45,414.70 L1016.65,406.65 L1017.21,398.60ZM1017.70,398.60 L1018.10,401.60 L1018.65,403.60 L1019.35,403.60 L1019.90,401.60 L1020.30,398.60ZM1021.22,398.60 L1021.75,406.16 L1021.95,413.72 L1022.35,418.04 L1022.70,420.20 L1023.30,420.20 L1023.65,418.04 L1024.05,413.72 L1024.25,406.16 L1024.78,398.60ZM1025.70,398.60 L1026.10,401.00 L1026.65,402.60 L1027.35,402.60 L1027.90,401.00 L1028.30,398.60ZM1030.70,398.60 L1031.10,401.60 L1031.65,403.60 L1032.35,403.60 L1032.90,401.60 L1033.30,398.60ZM1035.70,398.60 L1036.10,401.00 L1036.65,402.60 L1037.35,402.60 L1037.90,401.00 L1038.30,398.60ZM1038.49,398.60 L1038.75,401.40 L1038.95,404.20 L1039.35,405.80 L1039.70,406.60 L1040.30,406.60 L1040.65,405.80 L1041.05,404.20 L1041.25,401.40 L1041.51,398.60ZM1041.15,398.60 L1041.75,407.35 L1041.95,416.10 L1042.35,421.10 L1042.70,423.60 L1043.30,423.60 L1043.65,421.10 L1044.05,416.10 L1044.25,407.35 L1044.85,398.60ZM1044.70,398.60 L1045.10,401.60 L1045.65,403.60 L1046.35,403.60 L1046.90,401.60 L1047.30,398.60ZM1047.70,398.60 L1048.10,402.20 L1048.65,404.60 L1049.35,404.60 L1049.90,402.20 L1050.30,398.60ZM1049.65,398.60 L1050.55,412.60 L1050.75,426.60 L1051.15,434.60 L1051.50,438.60 L1052.10,438.60 L1052.45,434.60 L1052.85,426.60 L1053.05,412.60 L1053.95,398.60ZM1051.00,398.60 L1051.95,419.60 L1052.15,440.60 L1052.55,452.60 L1052.90,458.60 L1053.50,458.60 L1053.85,452.60 L1054.25,440.60 L1054.45,419.60 L1055.40,398.60ZM1052.30,398.60 L1053.25,429.40 L1053.45,460.20 L1053.85,477.80 L1054.20,486.60 L1054.80,486.60 L1055.15,477.80 L1055.55,460.20 L1055.75,429.40 L1056.70,398.60ZM132.53,398.60 L132.93,403.00 L133.48,405.94 L134.18,405.94 L134.73,403.00 L135.13,398.60ZM139.82,398.60 L140.14,402.51 L140.34,406.41 L140.74,408.64 L141.09,409.76 L141.69,409.76 L142.04,408.64 L142.44,406.41 L142.64,402.51 L142.97,398.60ZM153.55,398.60 L153.88,402.63 L154.08,406.67 L154.48,408.97 L154.83,410.13 L155.43,410.13 L155.78,408.97 L156.18,406.67 L156.38,402.63 L156.71,398.60ZM156.74,398.60 L157.04,402.04 L157.24,405.48 L157.64,407.44 L157.99,408.43 L158.59,408.43 L158.94,407.44 L159.34,405.48 L159.54,402.04 L159.84,398.60ZM165.09,398.60 L165.42,402.58 L165.62,406.55 L166.02,408.82 L166.37,409.96 L166.97,409.96 L167.32,408.82 L167.72,406.55 L167.92,402.58 L168.24,398.60ZM172.78,398.60 L173.28,405.60 L173.48,412.59 L173.88,416.59 L174.23,418.59 L174.83,418.59 L175.18,416.59 L175.58,412.59 L175.78,405.60 L176.28,398.60ZM181.86,398.60 L182.21,402.90 L182.41,407.19 L182.81,409.65 L183.16,410.87 L183.76,410.87 L184.11,409.65 L184.51,407.19 L184.71,402.90 L185.05,398.60ZM184.31,398.60 L184.61,402.04 L184.81,405.48 L185.21,407.45 L185.56,408.43 L186.16,408.43 L186.51,407.45 L186.91,405.48 L187.11,402.04 L187.40,398.60ZM190.47,398.60 L190.84,403.28 L191.04,407.97 L191.44,410.64 L191.79,411.98 L192.39,411.98 L192.74,410.64 L193.14,407.97 L193.34,403.28 L193.71,398.60ZM199.93,398.60 L200.71,410.42 L200.91,422.25 L201.31,429.00 L201.66,432.38 L202.26,432.38 L202.61,429.00 L203.01,422.25 L203.21,410.42 L203.98,398.60ZM206.55,398.60 L206.95,403.87 L207.15,409.15 L207.55,412.16 L207.90,413.67 L208.50,413.67 L208.85,412.16 L209.25,409.15 L209.45,403.87 L209.85,398.60ZM210.98,398.60 L211.25,401.66 L211.45,404.72 L211.85,406.46 L212.20,407.34 L212.80,407.34 L213.15,406.46 L213.55,404.72 L213.75,401.66 L214.03,398.60ZM223.17,398.60 L223.69,405.92 L223.89,413.24 L224.29,417.43 L224.64,419.52 L225.24,419.52 L225.59,417.43 L225.99,413.24 L226.19,405.92 L226.71,398.60ZM231.80,398.60 L232.20,402.61 L232.75,405.28 L233.45,405.28 L234.00,402.61 L234.40,398.60ZM235.67,398.60 L236.08,403.87 L236.28,409.13 L236.68,412.14 L237.03,413.65 L237.63,413.65 L237.98,412.14 L238.38,409.13 L238.58,403.87 L238.98,398.60ZM243.18,398.60 L243.62,404.58 L243.82,410.56 L244.22,413.97 L244.57,415.68 L245.17,415.68 L245.52,413.97 L245.92,410.56 L246.12,404.58 L246.56,398.60ZM252.58,398.60 L252.98,402.32 L253.53,404.80 L254.23,404.80 L254.78,402.32 L255.18,398.60ZM260.53,398.60 L261.20,408.53 L261.40,418.46 L261.80,424.13 L262.15,426.97 L262.75,426.97 L263.10,424.13 L263.50,418.46 L263.70,408.53 L264.37,398.60ZM273.68,398.60 L273.96,401.68 L274.16,404.75 L274.56,406.51 L274.91,407.39 L275.51,407.39 L275.86,406.51 L276.26,404.75 L276.46,401.68 L276.73,398.60ZM275.47,398.60 L275.76,401.90 L275.96,405.19 L276.36,407.08 L276.71,408.02 L277.31,408.02 L277.66,407.08 L278.06,405.19 L278.26,401.90 L278.55,398.60ZM277.37,398.60 L277.71,402.84 L277.91,407.08 L278.31,409.50 L278.66,410.71 L279.26,410.71 L279.61,409.50 L280.01,407.08 L280.21,402.84 L280.55,398.60ZM277.85,398.60 L278.53,408.77 L278.73,418.94 L279.13,424.75 L279.48,427.65 L280.08,427.65 L280.43,424.75 L280.83,418.94 L281.03,408.77 L281.71,398.60ZM281.04,398.60 L281.67,407.77 L281.87,416.94 L282.27,422.18 L282.62,424.80 L283.22,424.80 L283.57,422.18 L283.97,416.94 L284.17,407.77 L284.79,398.60ZM295.23,398.60 L296.04,410.98 L296.24,423.36 L296.64,430.44 L296.99,433.98 L297.59,433.98 L297.94,430.44 L298.34,423.36 L298.54,410.98 L299.34,398.60ZM307.38,398.60 L307.74,403.21 L307.94,407.82 L308.34,410.46 L308.69,411.77 L309.29,411.77 L309.64,410.46 L310.04,407.82 L310.24,403.21 L310.61,398.60ZM310.85,398.60 L311.14,401.92 L311.34,405.25 L311.74,407.15 L312.09,408.10 L312.69,408.10 L313.04,407.15 L313.44,405.25 L313.64,401.92 L313.93,398.60ZM317.75,398.60 L318.37,407.57 L318.57,416.54 L318.97,421.67 L319.32,424.23 L319.92,424.23 L320.27,421.67 L320.67,416.54 L320.87,407.57 L321.48,398.60ZM318.61,398.60 L318.98,403.35 L319.18,408.09 L319.58,410.80 L319.93,412.16 L320.53,412.16 L320.88,410.80 L321.28,408.09 L321.48,403.35 L321.86,398.60ZM322.06,398.60 L322.45,403.67 L322.65,408.74 L323.05,411.64 L323.40,413.09 L324.00,413.09 L324.35,411.64 L324.75,408.74 L324.95,403.67 L325.34,398.60ZM332.55,398.60 L333.24,408.82 L333.44,419.05 L333.84,424.89 L334.19,427.81 L334.79,427.81 L335.14,424.89 L335.54,419.05 L335.74,408.82 L336.42,398.60ZM340.60,398.60 L340.99,403.62 L341.19,408.63 L341.59,411.50 L341.94,412.93 L342.54,412.93 L342.89,411.50 L343.29,408.63 L343.49,403.62 L343.88,398.60ZM346.29,398.60 L346.73,404.67 L346.93,410.73 L347.33,414.20 L347.68,415.93 L348.28,415.93 L348.63,414.20 L349.03,410.73 L349.23,404.67 L349.68,398.60ZM358.71,398.60 L359.10,403.71 L359.30,408.83 L359.70,411.75 L360.05,413.21 L360.65,413.21 L361.00,411.75 L361.40,408.83 L361.60,403.71 L361.99,398.60ZM373.30,398.60 L373.70,401.83 L374.25,403.98 L374.95,403.98 L375.50,401.83 L375.90,398.60ZM381.17,398.60 L381.48,402.31 L381.68,406.01 L382.08,408.13 L382.43,409.19 L383.03,409.19 L383.38,408.13 L383.78,406.01 L383.98,402.31 L384.29,398.60ZM389.73,398.60 L390.22,405.38 L390.42,412.16 L390.82,416.03 L391.17,417.97 L391.77,417.97 L392.12,416.03 L392.52,412.16 L392.72,405.38 L393.21,398.60ZM393.32,398.60 L393.88,406.76 L394.08,414.92 L394.48,419.58 L394.83,421.91 L395.43,421.91 L395.78,419.58 L396.18,414.92 L396.38,406.76 L396.95,398.60ZM399.24,398.60 L399.77,406.09 L399.97,413.58 L400.37,417.86 L400.72,419.99 L401.32,419.99 L401.67,417.86 L402.07,413.58 L402.27,406.09 L402.80,398.60ZM399.72,398.60 L400.17,404.57 L400.37,410.54 L400.77,413.95 L401.12,415.65 L401.72,415.65 L402.07,413.95 L402.47,410.54 L402.67,404.57 L403.11,398.60ZM407.28,398.60 L407.68,401.98 L408.23,404.24 L408.93,404.24 L409.48,401.98 L409.88,398.60ZM415.31,398.60 L415.83,406.02 L416.03,413.44 L416.43,417.69 L416.78,419.81 L417.38,419.81 L417.73,417.69 L418.13,413.44 L418.33,406.02 L418.86,398.60ZM429.02,398.60 L429.88,411.87 L430.08,425.14 L430.48,432.72 L430.83,436.51 L431.43,436.51 L431.78,432.72 L432.18,425.14 L432.38,411.87 L433.24,398.60ZM434.90,398.60 L435.30,402.38 L435.85,404.90 L436.55,404.90 L437.10,402.38 L437.50,398.60ZM437.80,398.60 L438.20,401.01 L438.75,402.62 L439.45,402.62 L440.00,401.01 L440.40,398.60ZM443.42,398.60 L443.74,402.32 L443.94,406.04 L444.34,408.17 L444.69,409.23 L445.29,409.23 L445.64,408.17 L446.04,406.04 L446.24,402.32 L446.55,398.60ZM448.43,398.60 L449.15,409.39 L449.35,420.18 L449.75,426.35 L450.10,429.43 L450.70,429.43 L451.05,426.35 L451.45,420.18 L451.65,409.39 L452.37,398.60ZM454.71,398.60 L455.16,404.73 L455.36,410.87 L455.76,414.37 L456.11,416.12 L456.71,416.12 L457.06,414.37 L457.46,410.87 L457.66,404.73 L458.11,398.60ZM458.18,398.60 L458.89,409.34 L459.09,420.08 L459.49,426.22 L459.84,429.28 L460.44,429.28 L460.79,426.22 L461.19,420.08 L461.39,409.34 L462.10,398.60ZM471.05,398.60 L471.39,402.87 L471.59,407.15 L471.99,409.59 L472.34,410.81 L472.94,410.81 L473.29,409.59 L473.69,407.15 L473.89,402.87 L474.24,398.60ZM477.82,398.60 L478.12,402.08 L478.32,405.57 L478.72,407.56 L479.07,408.56 L479.67,408.56 L480.02,407.56 L480.42,405.57 L480.62,402.08 L480.92,398.60ZM482.98,398.60 L483.34,403.13 L483.54,407.65 L483.94,410.24 L484.29,411.53 L484.89,411.53 L485.24,410.24 L485.64,407.65 L485.84,403.13 L486.20,398.60ZM491.08,398.60 L491.61,406.07 L491.81,413.54 L492.21,417.80 L492.56,419.94 L493.16,419.94 L493.51,417.80 L493.91,413.54 L494.11,406.07 L494.63,398.60ZM507.82,398.60 L508.11,401.90 L508.31,405.21 L508.71,407.10 L509.06,408.04 L509.66,408.04 L510.01,407.10 L510.41,405.21 L510.61,401.90 L510.90,398.60ZM513.15,398.60 L513.72,406.84 L513.92,415.09 L514.32,419.80 L514.67,422.15 L515.27,422.15 L515.62,419.80 L516.02,415.09 L516.22,406.84 L516.80,398.60ZM524.14,398.60 L524.94,410.94 L525.14,423.28 L525.54,430.33 L525.89,433.86 L526.49,433.86 L526.84,430.33 L527.24,423.28 L527.44,410.94 L528.25,398.60ZM533.59,398.60 L534.03,404.59 L534.23,410.57 L534.63,414.00 L534.98,415.71 L535.58,415.71 L535.93,414.00 L536.33,410.57 L536.53,404.59 L536.97,398.60ZM536.62,398.60 L537.14,405.90 L537.34,413.19 L537.74,417.36 L538.09,419.44 L538.69,419.44 L539.04,417.36 L539.44,413.19 L539.64,405.90 L540.15,398.60ZM553.51,398.60 L554.00,405.42 L554.20,412.23 L554.60,416.13 L554.95,418.08 L555.55,418.08 L555.90,416.13 L556.30,412.23 L556.50,405.42 L556.98,398.60ZM572.22,398.60 L572.48,401.43 L572.68,404.25 L573.08,405.87 L573.43,406.67 L574.03,406.67 L574.38,405.87 L574.78,404.25 L574.98,401.43 L575.24,398.60ZM579.31,398.60 L579.79,405.29 L579.99,411.98 L580.39,415.80 L580.74,417.71 L581.34,417.71 L581.69,415.80 L582.09,411.98 L582.29,405.29 L582.77,398.60ZM581.82,398.60 L582.22,403.39 L582.77,406.59 L583.47,406.59 L584.02,403.39 L584.42,398.60ZM588.25,398.60 L588.53,401.86 L588.73,405.11 L589.13,406.97 L589.48,407.90 L590.08,407.90 L590.43,406.97 L590.83,405.11 L591.03,401.86 L591.32,398.60ZM596.76,398.60 L597.06,402.17 L597.26,405.74 L597.66,407.78 L598.01,408.80 L598.61,408.80 L598.96,407.78 L599.36,405.74 L599.56,402.17 L599.87,398.60ZM604.53,398.60 L604.82,401.89 L605.02,405.17 L605.42,407.05 L605.77,407.99 L606.37,407.99 L606.72,407.05 L607.12,405.17 L607.32,401.89 L607.61,398.60ZM609.89,398.60 L610.16,401.69 L610.36,404.79 L610.76,406.55 L611.11,407.44 L611.71,407.44 L612.06,406.55 L612.46,404.79 L612.66,401.69 L612.94,398.60ZM612.39,398.60 L612.82,404.49 L613.02,410.37 L613.42,413.74 L613.77,415.42 L614.37,415.42 L614.72,413.74 L615.12,410.37 L615.32,404.49 L615.76,398.60ZM628.98,398.60 L629.38,402.05 L629.93,404.35 L630.63,404.35 L631.18,402.05 L631.58,398.60ZM635.67,398.60 L636.37,409.09 L636.57,419.59 L636.97,425.58 L637.32,428.58 L637.92,428.58 L638.27,425.58 L638.67,419.59 L638.87,409.09 L639.57,398.60ZM646.16,398.60 L646.56,402.84 L647.11,405.67 L647.81,405.67 L648.36,402.84 L648.76,398.60ZM654.71,398.60 L655.02,402.20 L655.22,405.81 L655.62,407.86 L655.97,408.89 L656.57,408.89 L656.92,407.86 L657.32,405.81 L657.52,402.20 L657.82,398.60ZM663.55,398.60 L664.14,407.26 L664.34,415.92 L664.74,420.87 L665.09,423.35 L665.69,423.35 L666.04,420.87 L666.44,415.92 L666.64,407.26 L667.24,398.60ZM669.52,398.60 L669.83,402.14 L670.03,405.67 L670.43,407.69 L670.78,408.70 L671.38,408.70 L671.73,407.69 L672.13,405.67 L672.33,402.14 L672.63,398.60ZM685.02,398.60 L685.30,401.60 L685.50,404.59 L685.90,406.31 L686.25,407.16 L686.85,407.16 L687.20,406.31 L687.60,404.59 L687.80,401.60 L688.07,398.60ZM687.70,398.60 L687.97,401.63 L688.17,404.65 L688.57,406.38 L688.92,407.24 L689.52,407.24 L689.87,406.38 L690.27,404.65 L690.47,401.63 L690.75,398.60ZM692.42,398.60 L692.69,401.57 L692.89,404.54 L693.29,406.24 L693.64,407.09 L694.24,407.09 L694.59,406.24 L694.99,404.54 L695.19,401.57 L695.46,398.60ZM709.77,398.60 L710.17,402.56 L710.72,405.21 L711.42,405.21 L711.97,402.56 L712.37,398.60ZM723.69,398.60 L723.99,402.13 L724.19,405.66 L724.59,407.68 L724.94,408.69 L725.54,408.69 L725.89,407.68 L726.29,405.66 L726.49,402.13 L726.79,398.60ZM725.35,398.60 L725.75,403.75 L725.95,408.91 L726.35,411.85 L726.70,413.33 L727.30,413.33 L727.65,411.85 L728.05,408.91 L728.25,403.75 L728.64,398.60ZM726.91,398.60 L727.24,402.67 L727.44,406.74 L727.84,409.06 L728.19,410.23 L728.79,410.23 L729.14,409.06 L729.54,406.74 L729.74,402.67 L730.07,398.60ZM727.41,398.60 L728.08,408.53 L728.28,418.46 L728.68,424.13 L729.03,426.97 L729.63,426.97 L729.98,424.13 L730.38,418.46 L730.58,408.53 L731.24,398.60ZM732.21,398.60 L732.79,406.98 L732.99,415.36 L733.39,420.15 L733.74,422.55 L734.34,422.55 L734.69,420.15 L735.09,415.36 L735.29,406.98 L735.87,398.60ZM734.36,398.60 L734.67,402.33 L734.87,406.06 L735.27,408.19 L735.62,409.26 L736.22,409.26 L736.57,408.19 L736.97,406.06 L737.17,402.33 L737.49,398.60ZM733.22,398.60 L733.62,403.00 L734.17,405.93 L734.87,405.93 L735.42,403.00 L735.82,398.60ZM742.11,398.60 L742.49,403.55 L742.69,408.50 L743.09,411.33 L743.44,412.74 L744.04,412.74 L744.39,411.33 L744.79,408.50 L744.99,403.55 L745.37,398.60ZM751.27,398.60 L751.70,404.41 L751.90,410.23 L752.30,413.55 L752.65,415.21 L753.25,415.21 L753.60,413.55 L754.00,410.23 L754.20,404.41 L754.63,398.60ZM767.10,398.60 L767.43,402.56 L767.63,406.53 L768.03,408.79 L768.38,409.93 L768.98,409.93 L769.33,408.79 L769.73,406.53 L769.93,402.56 L770.25,398.60ZM771.01,398.60 L771.66,408.22 L771.86,417.84 L772.26,423.33 L772.61,426.08 L773.21,426.08 L773.56,423.33 L773.96,417.84 L774.16,408.22 L774.81,398.60ZM782.04,398.60 L782.44,401.85 L782.99,404.01 L783.69,404.01 L784.24,401.85 L784.64,398.60ZM793.50,398.60 L793.90,403.01 L794.45,405.95 L795.15,405.95 L795.70,403.01 L796.10,398.60ZM800.15,398.60 L800.57,404.30 L800.77,410.01 L801.17,413.26 L801.52,414.89 L802.12,414.89 L802.47,413.26 L802.87,410.01 L803.07,404.30 L803.50,398.60ZM811.01,398.60 L811.41,402.76 L811.96,405.53 L812.66,405.53 L813.21,402.76 L813.61,398.60ZM827.05,398.60 L827.39,402.74 L827.59,406.87 L827.99,409.24 L828.34,410.42 L828.94,410.42 L829.29,409.24 L829.69,406.87 L829.89,402.74 L830.23,398.60ZM838.86,398.60 L839.13,401.59 L839.33,404.58 L839.73,406.29 L840.08,407.14 L840.68,407.14 L841.03,406.29 L841.43,404.58 L841.63,401.59 L841.90,398.60ZM848.16,398.60 L848.56,401.73 L849.11,403.82 L849.81,403.82 L850.36,401.73 L850.76,398.60ZM858.55,398.60 L859.01,404.94 L859.21,411.28 L859.61,414.91 L859.96,416.72 L860.56,416.72 L860.91,414.91 L861.31,411.28 L861.51,404.94 L861.98,398.60ZM868.61,398.60 L868.90,401.89 L869.10,405.18 L869.50,407.07 L869.85,408.01 L870.45,408.01 L870.80,407.07 L871.20,405.18 L871.40,401.89 L871.69,398.60ZM878.29,398.60 L878.60,402.36 L878.80,406.13 L879.20,408.28 L879.55,409.35 L880.15,409.35 L880.50,408.28 L880.90,406.13 L881.10,402.36 L881.42,398.60ZM884.50,398.60 L884.98,405.22 L885.18,411.84 L885.58,415.62 L885.93,417.51 L886.53,417.51 L886.88,415.62 L887.28,411.84 L887.48,405.22 L887.96,398.60ZM904.63,398.60 L905.03,403.28 L905.58,406.40 L906.28,406.40 L906.83,403.28 L907.23,398.60ZM912.38,398.60 L912.78,400.87 L913.33,402.39 L914.03,402.39 L914.58,400.87 L914.98,398.60ZM919.65,398.60 L920.05,401.98 L920.60,404.23 L921.30,404.23 L921.85,401.98 L922.25,398.60ZM925.95,398.60 L926.28,402.57 L926.48,406.53 L926.88,408.80 L927.23,409.93 L927.83,409.93 L928.18,408.80 L928.58,406.53 L928.78,402.57 L929.11,398.60ZM936.51,398.60 L936.91,402.96 L937.46,405.87 L938.16,405.87 L938.71,402.96 L939.11,398.60ZM947.37,398.60 L947.80,404.46 L948.00,410.33 L948.40,413.68 L948.75,415.35 L949.35,415.35 L949.70,413.68 L950.10,410.33 L950.30,404.46 L950.74,398.60ZM953.24,398.60 L953.64,401.87 L954.19,404.05 L954.89,404.05 L955.44,401.87 L955.84,398.60ZM959.28,398.60 L959.59,402.30 L959.79,406.00 L960.19,408.12 L960.54,409.18 L961.14,409.18 L961.49,408.12 L961.89,406.00 L962.09,402.30 L962.40,398.60ZM964.85,398.60 L965.19,402.86 L965.39,407.11 L965.79,409.54 L966.14,410.76 L966.74,410.76 L967.09,409.54 L967.49,407.11 L967.69,402.86 L968.03,398.60ZM969.80,398.60 L970.20,401.68 L970.75,403.74 L971.45,403.74 L972.00,401.68 L972.40,398.60ZM976.27,398.60 L976.86,407.04 L977.06,415.48 L977.46,420.30 L977.81,422.72 L978.41,422.72 L978.76,420.30 L979.16,415.48 L979.36,407.04 L979.94,398.60ZM985.71,398.60 L986.39,408.61 L986.59,418.61 L986.99,424.33 L987.34,427.19 L987.94,427.19 L988.29,424.33 L988.69,418.61 L988.89,408.61 L989.56,398.60ZM999.01,398.60 L999.55,406.37 L999.75,414.13 L1000.15,418.57 L1000.50,420.79 L1001.10,420.79 L1001.45,418.57 L1001.85,414.13 L1002.05,406.37 L1002.59,398.60ZM1015.36,398.60 L1015.63,401.48 L1015.83,404.36 L1016.23,406.01 L1016.58,406.83 L1017.18,406.83 L1017.53,406.01 L1017.93,404.36 L1018.13,401.48 L1018.39,398.60ZM1022.55,398.60 L1022.85,402.15 L1023.05,405.70 L1023.45,407.73 L1023.80,408.74 L1024.40,408.74 L1024.75,407.73 L1025.15,405.70 L1025.35,402.15 L1025.66,398.60ZM1040.00,398.60 L1040.37,403.26 L1040.57,407.91 L1040.97,410.57 L1041.32,411.91 L1041.92,411.91 L1042.27,410.57 L1042.67,407.91 L1042.87,403.26 L1043.23,398.60ZM1048.70,398.60 L1049.15,404.68 L1049.35,410.76 L1049.75,414.24 L1050.10,415.98 L1050.70,415.98 L1051.05,414.24 L1051.45,410.76 L1051.65,404.68 L1052.09,398.60ZM1050.07,398.60 L1050.63,406.69 L1050.83,414.78 L1051.23,419.40 L1051.58,421.71 L1052.18,421.71 L1052.53,419.40 L1052.93,414.78 L1053.13,406.69 L1053.69,398.60ZM1050.90,398.60 L1051.62,409.51 L1051.82,420.42 L1052.22,426.65 L1052.57,429.76 L1053.17,429.76 L1053.52,426.65 L1053.92,420.42 L1054.12,409.51 L1054.84,398.60ZM113.88,398.60 L114.28,400.39 L114.83,401.58 L115.53,401.58 L116.08,400.39 L116.48,398.60ZM116.30,398.60 L116.70,399.90 L117.25,400.77 L117.95,400.77 L118.50,399.90 L118.90,398.60ZM121.96,398.60 L122.36,400.46 L122.91,401.69 L123.61,401.69 L124.16,400.46 L124.56,398.60ZM124.64,398.60 L125.04,400.99 L125.59,402.59 L126.29,402.59 L126.84,400.99 L127.24,398.60ZM127.77,398.60 L128.17,401.04 L128.72,402.67 L129.42,402.67 L129.97,401.04 L130.37,398.60ZM144.15,398.60 L144.55,401.14 L145.10,402.84 L145.80,402.84 L146.35,401.14 L146.75,398.60ZM150.21,398.60 L150.61,400.80 L151.16,402.27 L151.86,402.27 L152.41,400.80 L152.81,398.60ZM194.93,398.60 L195.33,400.27 L195.88,401.39 L196.58,401.39 L197.13,400.27 L197.53,398.60ZM219.96,398.60 L220.36,400.16 L220.91,401.20 L221.61,401.20 L222.16,400.16 L222.56,398.60ZM247.71,398.60 L248.11,401.01 L248.66,402.61 L249.36,402.61 L249.91,401.01 L250.31,398.60ZM264.43,398.60 L264.83,400.85 L265.38,402.35 L266.08,402.35 L266.63,400.85 L267.03,398.60ZM269.79,398.60 L270.19,400.18 L270.74,401.23 L271.44,401.23 L271.99,400.18 L272.39,398.60ZM303.22,398.60 L303.62,399.71 L304.17,400.45 L304.87,400.45 L305.42,399.71 L305.82,398.60ZM314.51,398.60 L314.91,400.70 L315.46,402.10 L316.16,402.10 L316.71,400.70 L317.11,398.60ZM440.14,398.60 L440.54,400.11 L441.09,401.11 L441.79,401.11 L442.34,400.11 L442.74,398.60ZM446.04,398.60 L446.44,400.65 L446.99,402.02 L447.69,402.02 L448.24,400.65 L448.64,398.60ZM509.68,398.60 L510.08,401.15 L510.63,402.84 L511.33,402.84 L511.88,401.15 L512.28,398.60ZM560.25,398.60 L560.65,401.43 L561.20,403.32 L561.90,403.32 L562.45,401.43 L562.85,398.60ZM633.11,398.60 L633.51,399.85 L634.06,400.69 L634.76,400.69 L635.31,399.85 L635.71,398.60ZM680.11,398.60 L680.51,399.55 L681.06,400.18 L681.76,400.18 L682.31,399.55 L682.71,398.60ZM722.41,398.60 L722.81,401.19 L723.36,402.92 L724.06,402.92 L724.61,401.19 L725.01,398.60ZM778.22,398.60 L778.62,401.07 L779.17,402.72 L779.87,402.72 L780.42,401.07 L780.82,398.60ZM789.37,398.60 L789.77,400.29 L790.32,401.42 L791.02,401.42 L791.57,400.29 L791.97,398.60ZM805.39,398.60 L805.79,400.48 L806.34,401.73 L807.04,401.73 L807.59,400.48 L807.99,398.60ZM845.14,398.60 L845.54,401.50 L846.09,403.43 L846.79,403.43 L847.34,401.50 L847.74,398.60ZM875.16,398.60 L875.56,400.61 L876.11,401.95 L876.81,401.95 L877.36,400.61 L877.76,398.60ZM895.04,398.60 L895.44,401.21 L895.99,402.94 L896.69,402.94 L897.24,401.21 L897.64,398.60ZM900.53,398.60 L900.93,401.39 L901.48,403.25 L902.18,403.25 L902.73,401.39 L903.13,398.60ZM917.20,398.60 L917.60,401.37 L918.15,403.22 L918.85,403.22 L919.40,401.37 L919.80,398.60ZM1012.12,398.60 L1012.52,400.96 L1013.07,402.53 L1013.77,402.53 L1014.32,400.96 L1014.72,398.60Z" fill="#f7667f"/>
<line x1="90.8" y1="321.9" x2="1055.6" y2="324" stroke="#aeb9e6" stroke-width="1.6" opacity="0.85"/>
<line x1="91.4" y1="464.6" x2="1054.5" y2="462.4" stroke="#efa2b3" stroke-width="1.8"/>
<line x1="86.7" y1="135.8" x2="86.7" y2="556" stroke="#1a1a1a" stroke-width="2"/>
<line x1="1060" y1="135.8" x2="1060" y2="556" stroke="#3c9a48" stroke-width="2"/>
<g font-size="8.8" fill="#555">
<text x="79.8" y="229.9" text-anchor="end">$40k</text>
<text x="79.8" y="555.1" text-anchor="end">$10k</text>
<text x="1067.5" y="239.7">12%</text>
<text x="1067.5" y="345.6">4%</text>
<text x="1067.5" y="450.4">-4%</text>
<text x="1067.5" y="555.4">-12%</text>
</g>
<g font-size="9.4" fill="#555">
<text x="92.4" y="576.5" text-anchor="middle">Jan '23</text>
<text x="178.9" y="576.5" text-anchor="middle">Feb '23</text>
<text x="257.0" y="576.5" text-anchor="middle">Mar '23</text>
<text x="343.5" y="576.5" text-anchor="middle">Apr '23</text>
<text x="427.2" y="576.5" text-anchor="middle">May '23</text>
<text x="513.7" y="576.5" text-anchor="middle">Jun '23</text>
<text x="597.4" y="576.5" text-anchor="middle">Jul '23</text>
<text x="683.9" y="576.5" text-anchor="middle">Aug '23</text>
<text x="770.4" y="576.5" text-anchor="middle">Sep '23</text>
<text x="854.1" y="576.5" text-anchor="middle">Oct '23</text>
<text x="940.6" y="576.5" text-anchor="middle">Nov '23</text>
<text x="1024.3" y="576.5" text-anchor="middle">Dec '23</text>
</g>
<g font-weight="bold" font-size="12" fill="#e8306c" text-anchor="middle">
<text x="211.9" y="502.1">March Sell-off</text>
<text x="211.9" y="515.6">-6.26%</text>
<text x="661.8" y="496">August Sell-off</text>
<text x="661.6" y="509.7">-7.23%</text>
<text x="994" y="476">December Sell-off</text>
<text x="994" y="490.2">-5.75% (-$2.5k)</text>
</g>
<g font-weight="bold" font-size="12" fill="#2a2ae6" text-anchor="middle">
<text x="976.8" y="284.6">2023 High</text>
<text x="976.8" y="298.7">+5.20%</text>
</g>
<g fill="none" stroke-width="1" stroke-dasharray="1.6 1.6">
<line x1="165" y1="518.3" x2="276" y2="518.3" stroke="#d99aac"/>
<line x1="615.4" y1="512" x2="725" y2="512" stroke="#d99aac"/>
<line x1="941.8" y1="494" x2="1048" y2="494" stroke="#c8a0ac"/>
<line x1="924.8" y1="302.6" x2="1037.8" y2="302.6" stroke="#8c8ce8"/>
<line x1="1037.6" y1="302.6" x2="1037.6" y2="316" stroke="#6a6ae8" stroke-width="1.2"/>
</g>
<g stroke-width="1" stroke-dasharray="2 1.5">
<circle cx="281.8" cy="513.8" r="6.8" fill="rgba(245,150,170,0.35)" stroke="#ef8ca4"/>
<circle cx="731.6" cy="508.6" r="6.8" fill="rgba(245,150,170,0.35)" stroke="#ef8ca4"/>
<circle cx="1053.7" cy="490.5" r="6.3" fill="rgba(245,150,170,0.35)" stroke="#ef8ca4"/>
<circle cx="1037.6" cy="322.3" r="7.2" fill="rgba(150,150,245,0.45)" stroke="#7070ee"/>
</g>
</svg>
<div class="foot">© 2023 Glassnode. All Rights Reserved.</div>
<div class="logo">glassnode</div>
</body></html>
